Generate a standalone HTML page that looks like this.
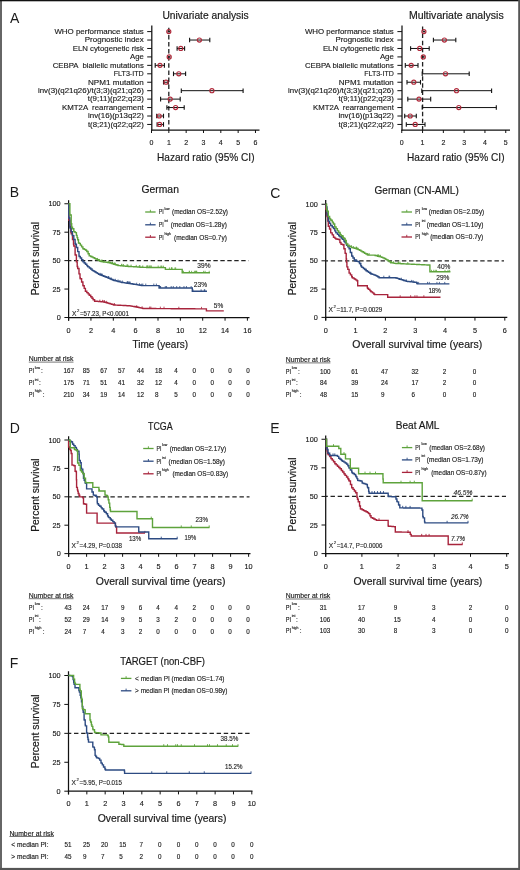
<!DOCTYPE html>
<html><head><meta charset="utf-8"><title>Figure</title>
<style>
html,body{margin:0;padding:0;background:#fff;}
svg{display:block;will-change:transform;}
text{font-family:"Liberation Sans", sans-serif;white-space:pre;}
.s{stroke:#1a1a1a;stroke-width:0.14px;}
.m{stroke:#1a1a1a;stroke-width:0.18px;}
</style></head>
<body>
<svg width="520" height="870" viewBox="0 0 520 870">
<rect x="0" y="0" width="520" height="870" fill="#ffffff"/>
<text x="9.90" y="22.50" font-size="14.0" fill="#1a1a1a" class="m" style="stroke:none">A</text>
<text x="162.40" y="19.40" font-size="10.3" textLength="86.30" lengthAdjust="spacingAndGlyphs" fill="#1a1a1a" class="m">Univariate analysis</text>
<text x="143.80" y="33.90" font-size="7.8" text-anchor="end" textLength="89.40" lengthAdjust="spacingAndGlyphs" fill="#1a1a1a" class="s">WHO performance status</text>
<text x="143.80" y="42.34" font-size="7.8" text-anchor="end" textLength="59.00" lengthAdjust="spacingAndGlyphs" fill="#1a1a1a" class="s">Prognostic index</text>
<text x="143.80" y="50.78" font-size="7.8" text-anchor="end" textLength="71.10" lengthAdjust="spacingAndGlyphs" fill="#1a1a1a" class="s">ELN cytogenetic risk</text>
<text x="143.80" y="59.22" font-size="7.8" text-anchor="end" textLength="13.80" lengthAdjust="spacingAndGlyphs" fill="#1a1a1a" class="s">Age</text>
<text x="143.80" y="67.66" font-size="7.8" text-anchor="end" textLength="91.10" lengthAdjust="spacingAndGlyphs" fill="#1a1a1a" class="s">CEBPA  biallelic mutations</text>
<text x="143.80" y="76.10" font-size="7.8" text-anchor="end" textLength="30.10" lengthAdjust="spacingAndGlyphs" fill="#1a1a1a" class="s">FLT3-ITD</text>
<text x="143.80" y="84.54" font-size="7.8" text-anchor="end" textLength="55.80" lengthAdjust="spacingAndGlyphs" fill="#1a1a1a" class="s">NPM1 mutation</text>
<text x="143.80" y="92.98" font-size="7.8" text-anchor="end" textLength="105.90" lengthAdjust="spacingAndGlyphs" fill="#1a1a1a" class="s">inv(3)(q21q26)/t(3;3)(q21;q26)</text>
<text x="143.80" y="101.42" font-size="7.8" text-anchor="end" textLength="56.00" lengthAdjust="spacingAndGlyphs" fill="#1a1a1a" class="s">t(9;11)(p22;q23)</text>
<text x="143.80" y="109.86" font-size="7.8" text-anchor="end" textLength="81.90" lengthAdjust="spacingAndGlyphs" fill="#1a1a1a" class="s">KMT2A  rearrangement</text>
<text x="143.80" y="118.30" font-size="7.8" text-anchor="end" textLength="55.80" lengthAdjust="spacingAndGlyphs" fill="#1a1a1a" class="s">inv(16)(p13q22)</text>
<text x="143.80" y="126.74" font-size="7.8" text-anchor="end" textLength="55.90" lengthAdjust="spacingAndGlyphs" fill="#1a1a1a" class="s">t(8;21)(q22;q22)</text>
<line x1="151.80" y1="25.50" x2="151.80" y2="130.60" stroke="#111" stroke-width="1.25"/>
<line x1="147.20" y1="31.60" x2="151.80" y2="31.60" stroke="#111" stroke-width="1.0"/>
<line x1="147.20" y1="40.04" x2="151.80" y2="40.04" stroke="#111" stroke-width="1.0"/>
<line x1="147.20" y1="48.48" x2="151.80" y2="48.48" stroke="#111" stroke-width="1.0"/>
<line x1="147.20" y1="56.92" x2="151.80" y2="56.92" stroke="#111" stroke-width="1.0"/>
<line x1="147.20" y1="65.36" x2="151.80" y2="65.36" stroke="#111" stroke-width="1.0"/>
<line x1="147.20" y1="73.80" x2="151.80" y2="73.80" stroke="#111" stroke-width="1.0"/>
<line x1="147.20" y1="82.24" x2="151.80" y2="82.24" stroke="#111" stroke-width="1.0"/>
<line x1="147.20" y1="90.68" x2="151.80" y2="90.68" stroke="#111" stroke-width="1.0"/>
<line x1="147.20" y1="99.12" x2="151.80" y2="99.12" stroke="#111" stroke-width="1.0"/>
<line x1="147.20" y1="107.56" x2="151.80" y2="107.56" stroke="#111" stroke-width="1.0"/>
<line x1="147.20" y1="116.00" x2="151.80" y2="116.00" stroke="#111" stroke-width="1.0"/>
<line x1="147.20" y1="124.44" x2="151.80" y2="124.44" stroke="#111" stroke-width="1.0"/>
<line x1="151.20" y1="130.00" x2="259.50" y2="130.00" stroke="#111" stroke-width="1.25"/>
<line x1="151.50" y1="130.00" x2="151.50" y2="133.00" stroke="#111" stroke-width="1.0"/>
<text x="151.50" y="144.90" font-size="7.0" text-anchor="middle" fill="#1a1a1a" class="s">0</text>
<line x1="168.83" y1="130.00" x2="168.83" y2="133.00" stroke="#111" stroke-width="1.0"/>
<text x="168.83" y="144.90" font-size="7.0" text-anchor="middle" fill="#1a1a1a" class="s">1</text>
<line x1="186.16" y1="130.00" x2="186.16" y2="133.00" stroke="#111" stroke-width="1.0"/>
<text x="186.16" y="144.90" font-size="7.0" text-anchor="middle" fill="#1a1a1a" class="s">2</text>
<line x1="203.49" y1="130.00" x2="203.49" y2="133.00" stroke="#111" stroke-width="1.0"/>
<text x="203.49" y="144.90" font-size="7.0" text-anchor="middle" fill="#1a1a1a" class="s">3</text>
<line x1="220.82" y1="130.00" x2="220.82" y2="133.00" stroke="#111" stroke-width="1.0"/>
<text x="220.82" y="144.90" font-size="7.0" text-anchor="middle" fill="#1a1a1a" class="s">4</text>
<line x1="238.15" y1="130.00" x2="238.15" y2="133.00" stroke="#111" stroke-width="1.0"/>
<text x="238.15" y="144.90" font-size="7.0" text-anchor="middle" fill="#1a1a1a" class="s">5</text>
<line x1="255.48" y1="130.00" x2="255.48" y2="133.00" stroke="#111" stroke-width="1.0"/>
<text x="255.48" y="144.90" font-size="7.0" text-anchor="middle" fill="#1a1a1a" class="s">6</text>
<line x1="168.80" y1="25.50" x2="168.80" y2="130.00" stroke="#222" stroke-width="1.3" stroke-dasharray="4.5,2.6" stroke-dashoffset="4.8"/>
<rect x="167.50" y="30.80" width="2.6" height="1.6" fill="#222"/>
<circle cx="168.80" cy="31.60" r="2.05" fill="none" stroke="#b02a3b" stroke-width="1.15"/>
<line x1="189.60" y1="40.04" x2="209.80" y2="40.04" stroke="#111" stroke-width="1.0"/>
<line x1="189.60" y1="37.74" x2="189.60" y2="42.34" stroke="#111" stroke-width="1.1"/>
<line x1="209.80" y1="37.74" x2="209.80" y2="42.34" stroke="#111" stroke-width="1.1"/>
<circle cx="199.40" cy="40.04" r="2.05" fill="none" stroke="#b02a3b" stroke-width="1.15"/>
<line x1="177.10" y1="48.48" x2="184.60" y2="48.48" stroke="#111" stroke-width="1.0"/>
<line x1="177.10" y1="46.18" x2="177.10" y2="50.78" stroke="#111" stroke-width="1.1"/>
<line x1="184.60" y1="46.18" x2="184.60" y2="50.78" stroke="#111" stroke-width="1.1"/>
<circle cx="180.80" cy="48.48" r="2.05" fill="none" stroke="#b02a3b" stroke-width="1.15"/>
<rect x="167.90" y="56.12" width="2.6" height="1.6" fill="#222"/>
<circle cx="169.20" cy="56.92" r="2.05" fill="none" stroke="#b02a3b" stroke-width="1.15"/>
<line x1="155.20" y1="65.36" x2="164.40" y2="65.36" stroke="#111" stroke-width="1.0"/>
<line x1="155.20" y1="63.06" x2="155.20" y2="67.66" stroke="#111" stroke-width="1.1"/>
<line x1="164.40" y1="63.06" x2="164.40" y2="67.66" stroke="#111" stroke-width="1.1"/>
<circle cx="160.00" cy="65.36" r="2.05" fill="none" stroke="#b02a3b" stroke-width="1.15"/>
<line x1="173.50" y1="73.80" x2="185.60" y2="73.80" stroke="#111" stroke-width="1.0"/>
<line x1="173.50" y1="71.50" x2="173.50" y2="76.10" stroke="#111" stroke-width="1.1"/>
<line x1="185.60" y1="71.50" x2="185.60" y2="76.10" stroke="#111" stroke-width="1.1"/>
<circle cx="178.80" cy="73.80" r="2.05" fill="none" stroke="#b02a3b" stroke-width="1.15"/>
<line x1="163.50" y1="82.24" x2="168.30" y2="82.24" stroke="#111" stroke-width="1.0"/>
<line x1="163.50" y1="79.94" x2="163.50" y2="84.54" stroke="#111" stroke-width="1.1"/>
<line x1="168.30" y1="79.94" x2="168.30" y2="84.54" stroke="#111" stroke-width="1.1"/>
<circle cx="166.00" cy="82.24" r="2.05" fill="none" stroke="#b02a3b" stroke-width="1.15"/>
<line x1="181.30" y1="90.68" x2="243.10" y2="90.68" stroke="#111" stroke-width="1.0"/>
<line x1="181.30" y1="88.38" x2="181.30" y2="92.98" stroke="#111" stroke-width="1.1"/>
<line x1="243.10" y1="88.38" x2="243.10" y2="92.98" stroke="#111" stroke-width="1.1"/>
<circle cx="211.90" cy="90.68" r="2.05" fill="none" stroke="#b02a3b" stroke-width="1.15"/>
<line x1="160.60" y1="99.12" x2="180.20" y2="99.12" stroke="#111" stroke-width="1.0"/>
<line x1="160.60" y1="96.82" x2="160.60" y2="101.42" stroke="#111" stroke-width="1.1"/>
<line x1="180.20" y1="96.82" x2="180.20" y2="101.42" stroke="#111" stroke-width="1.1"/>
<circle cx="170.20" cy="99.12" r="2.05" fill="none" stroke="#b02a3b" stroke-width="1.15"/>
<line x1="166.90" y1="107.56" x2="184.20" y2="107.56" stroke="#111" stroke-width="1.0"/>
<line x1="166.90" y1="105.26" x2="166.90" y2="109.86" stroke="#111" stroke-width="1.1"/>
<line x1="184.20" y1="105.26" x2="184.20" y2="109.86" stroke="#111" stroke-width="1.1"/>
<circle cx="175.60" cy="107.56" r="2.05" fill="none" stroke="#b02a3b" stroke-width="1.15"/>
<line x1="156.70" y1="116.00" x2="163.50" y2="116.00" stroke="#111" stroke-width="1.0"/>
<line x1="156.70" y1="113.70" x2="156.70" y2="118.30" stroke="#111" stroke-width="1.1"/>
<line x1="163.50" y1="113.70" x2="163.50" y2="118.30" stroke="#111" stroke-width="1.1"/>
<circle cx="159.20" cy="116.00" r="2.05" fill="none" stroke="#b02a3b" stroke-width="1.15"/>
<line x1="157.10" y1="124.44" x2="163.50" y2="124.44" stroke="#111" stroke-width="1.0"/>
<line x1="157.10" y1="122.14" x2="157.10" y2="126.74" stroke="#111" stroke-width="1.1"/>
<line x1="163.50" y1="122.14" x2="163.50" y2="126.74" stroke="#111" stroke-width="1.1"/>
<circle cx="159.60" cy="124.44" r="2.05" fill="none" stroke="#b02a3b" stroke-width="1.15"/>
<text x="157.00" y="160.60" font-size="10.4" textLength="97.50" lengthAdjust="spacingAndGlyphs" fill="#1a1a1a" class="m">Hazard ratio (95% CI)</text>
<text x="408.90" y="19.40" font-size="10.3" textLength="94.80" lengthAdjust="spacingAndGlyphs" fill="#1a1a1a" class="m">Multivariate analysis</text>
<text x="393.80" y="33.90" font-size="7.8" text-anchor="end" textLength="88.90" lengthAdjust="spacingAndGlyphs" fill="#1a1a1a" class="s">WHO performance status</text>
<text x="393.80" y="42.34" font-size="7.8" text-anchor="end" textLength="58.40" lengthAdjust="spacingAndGlyphs" fill="#1a1a1a" class="s">Prognostic index</text>
<text x="393.80" y="50.78" font-size="7.8" text-anchor="end" textLength="70.90" lengthAdjust="spacingAndGlyphs" fill="#1a1a1a" class="s">ELN cytogenetic risk</text>
<text x="393.80" y="59.22" font-size="7.8" text-anchor="end" textLength="13.90" lengthAdjust="spacingAndGlyphs" fill="#1a1a1a" class="s">Age</text>
<text x="393.80" y="67.66" font-size="7.8" text-anchor="end" textLength="88.90" lengthAdjust="spacingAndGlyphs" fill="#1a1a1a" class="s">CEBPA biallelic mutations</text>
<text x="393.80" y="76.10" font-size="7.8" text-anchor="end" textLength="29.60" lengthAdjust="spacingAndGlyphs" fill="#1a1a1a" class="s">FLT3-ITD</text>
<text x="393.80" y="84.54" font-size="7.8" text-anchor="end" textLength="55.00" lengthAdjust="spacingAndGlyphs" fill="#1a1a1a" class="s">NPM1 mutation</text>
<text x="393.80" y="92.98" font-size="7.8" text-anchor="end" textLength="105.70" lengthAdjust="spacingAndGlyphs" fill="#1a1a1a" class="s">inv(3)(q21q26)/t(3;3)(q21;q26)</text>
<text x="393.80" y="101.42" font-size="7.8" text-anchor="end" textLength="55.40" lengthAdjust="spacingAndGlyphs" fill="#1a1a1a" class="s">t(9;11)(p22;q23)</text>
<text x="393.80" y="109.86" font-size="7.8" text-anchor="end" textLength="80.80" lengthAdjust="spacingAndGlyphs" fill="#1a1a1a" class="s">KMT2A  rearrangement</text>
<text x="393.80" y="118.30" font-size="7.8" text-anchor="end" textLength="55.40" lengthAdjust="spacingAndGlyphs" fill="#1a1a1a" class="s">inv(16)(p13q22)</text>
<text x="393.80" y="126.74" font-size="7.8" text-anchor="end" textLength="55.40" lengthAdjust="spacingAndGlyphs" fill="#1a1a1a" class="s">t(8;21)(q22;q22)</text>
<line x1="402.00" y1="25.50" x2="402.00" y2="130.60" stroke="#111" stroke-width="1.25"/>
<line x1="397.40" y1="31.60" x2="402.00" y2="31.60" stroke="#111" stroke-width="1.0"/>
<line x1="397.40" y1="40.04" x2="402.00" y2="40.04" stroke="#111" stroke-width="1.0"/>
<line x1="397.40" y1="48.48" x2="402.00" y2="48.48" stroke="#111" stroke-width="1.0"/>
<line x1="397.40" y1="56.92" x2="402.00" y2="56.92" stroke="#111" stroke-width="1.0"/>
<line x1="397.40" y1="65.36" x2="402.00" y2="65.36" stroke="#111" stroke-width="1.0"/>
<line x1="397.40" y1="73.80" x2="402.00" y2="73.80" stroke="#111" stroke-width="1.0"/>
<line x1="397.40" y1="82.24" x2="402.00" y2="82.24" stroke="#111" stroke-width="1.0"/>
<line x1="397.40" y1="90.68" x2="402.00" y2="90.68" stroke="#111" stroke-width="1.0"/>
<line x1="397.40" y1="99.12" x2="402.00" y2="99.12" stroke="#111" stroke-width="1.0"/>
<line x1="397.40" y1="107.56" x2="402.00" y2="107.56" stroke="#111" stroke-width="1.0"/>
<line x1="397.40" y1="116.00" x2="402.00" y2="116.00" stroke="#111" stroke-width="1.0"/>
<line x1="397.40" y1="124.44" x2="402.00" y2="124.44" stroke="#111" stroke-width="1.0"/>
<line x1="401.40" y1="130.00" x2="510.00" y2="130.00" stroke="#111" stroke-width="1.25"/>
<line x1="401.75" y1="130.00" x2="401.75" y2="133.00" stroke="#111" stroke-width="1.0"/>
<text x="401.75" y="144.90" font-size="7.0" text-anchor="middle" fill="#1a1a1a" class="s">0</text>
<line x1="422.55" y1="130.00" x2="422.55" y2="133.00" stroke="#111" stroke-width="1.0"/>
<text x="422.55" y="144.90" font-size="7.0" text-anchor="middle" fill="#1a1a1a" class="s">1</text>
<line x1="443.35" y1="130.00" x2="443.35" y2="133.00" stroke="#111" stroke-width="1.0"/>
<text x="443.35" y="144.90" font-size="7.0" text-anchor="middle" fill="#1a1a1a" class="s">2</text>
<line x1="464.15" y1="130.00" x2="464.15" y2="133.00" stroke="#111" stroke-width="1.0"/>
<text x="464.15" y="144.90" font-size="7.0" text-anchor="middle" fill="#1a1a1a" class="s">3</text>
<line x1="484.95" y1="130.00" x2="484.95" y2="133.00" stroke="#111" stroke-width="1.0"/>
<text x="484.95" y="144.90" font-size="7.0" text-anchor="middle" fill="#1a1a1a" class="s">4</text>
<line x1="505.75" y1="130.00" x2="505.75" y2="133.00" stroke="#111" stroke-width="1.0"/>
<text x="505.75" y="144.90" font-size="7.0" text-anchor="middle" fill="#1a1a1a" class="s">5</text>
<line x1="422.60" y1="25.50" x2="422.60" y2="130.00" stroke="#222" stroke-width="1.3" stroke-dasharray="4.5,2.6" stroke-dashoffset="6.1"/>
<rect x="422.60" y="30.80" width="2.6" height="1.6" fill="#222"/>
<circle cx="423.90" cy="31.60" r="2.05" fill="none" stroke="#b02a3b" stroke-width="1.15"/>
<line x1="433.40" y1="40.04" x2="455.80" y2="40.04" stroke="#111" stroke-width="1.0"/>
<line x1="433.40" y1="37.74" x2="433.40" y2="42.34" stroke="#111" stroke-width="1.1"/>
<line x1="455.80" y1="37.74" x2="455.80" y2="42.34" stroke="#111" stroke-width="1.1"/>
<circle cx="444.40" cy="40.04" r="2.05" fill="none" stroke="#b02a3b" stroke-width="1.15"/>
<line x1="410.60" y1="48.48" x2="429.20" y2="48.48" stroke="#111" stroke-width="1.0"/>
<line x1="410.60" y1="46.18" x2="410.60" y2="50.78" stroke="#111" stroke-width="1.1"/>
<line x1="429.20" y1="46.18" x2="429.20" y2="50.78" stroke="#111" stroke-width="1.1"/>
<circle cx="419.70" cy="48.48" r="2.05" fill="none" stroke="#b02a3b" stroke-width="1.15"/>
<rect x="422.00" y="56.12" width="2.6" height="1.6" fill="#222"/>
<circle cx="423.30" cy="56.92" r="2.05" fill="none" stroke="#b02a3b" stroke-width="1.15"/>
<line x1="405.30" y1="65.36" x2="418.00" y2="65.36" stroke="#111" stroke-width="1.0"/>
<line x1="405.30" y1="63.06" x2="405.30" y2="67.66" stroke="#111" stroke-width="1.1"/>
<line x1="418.00" y1="63.06" x2="418.00" y2="67.66" stroke="#111" stroke-width="1.1"/>
<circle cx="411.20" cy="65.36" r="2.05" fill="none" stroke="#b02a3b" stroke-width="1.15"/>
<line x1="422.20" y1="73.80" x2="469.20" y2="73.80" stroke="#111" stroke-width="1.0"/>
<line x1="422.20" y1="71.50" x2="422.20" y2="76.10" stroke="#111" stroke-width="1.1"/>
<line x1="469.20" y1="71.50" x2="469.20" y2="76.10" stroke="#111" stroke-width="1.1"/>
<circle cx="445.50" cy="73.80" r="2.05" fill="none" stroke="#b02a3b" stroke-width="1.15"/>
<line x1="407.00" y1="82.24" x2="420.50" y2="82.24" stroke="#111" stroke-width="1.0"/>
<line x1="407.00" y1="79.94" x2="407.00" y2="84.54" stroke="#111" stroke-width="1.1"/>
<line x1="420.50" y1="79.94" x2="420.50" y2="84.54" stroke="#111" stroke-width="1.1"/>
<circle cx="413.80" cy="82.24" r="2.05" fill="none" stroke="#b02a3b" stroke-width="1.15"/>
<line x1="421.80" y1="90.68" x2="491.60" y2="90.68" stroke="#111" stroke-width="1.0"/>
<line x1="421.80" y1="88.38" x2="421.80" y2="92.98" stroke="#111" stroke-width="1.1"/>
<line x1="491.60" y1="88.38" x2="491.60" y2="92.98" stroke="#111" stroke-width="1.1"/>
<circle cx="456.50" cy="90.68" r="2.05" fill="none" stroke="#b02a3b" stroke-width="1.15"/>
<line x1="407.80" y1="99.12" x2="430.70" y2="99.12" stroke="#111" stroke-width="1.0"/>
<line x1="407.80" y1="96.82" x2="407.80" y2="101.42" stroke="#111" stroke-width="1.1"/>
<line x1="430.70" y1="96.82" x2="430.70" y2="101.42" stroke="#111" stroke-width="1.1"/>
<circle cx="419.00" cy="99.12" r="2.05" fill="none" stroke="#b02a3b" stroke-width="1.15"/>
<line x1="422.20" y1="107.56" x2="496.30" y2="107.56" stroke="#111" stroke-width="1.0"/>
<line x1="422.20" y1="105.26" x2="422.20" y2="109.86" stroke="#111" stroke-width="1.1"/>
<line x1="496.30" y1="105.26" x2="496.30" y2="109.86" stroke="#111" stroke-width="1.1"/>
<circle cx="458.80" cy="107.56" r="2.05" fill="none" stroke="#b02a3b" stroke-width="1.15"/>
<line x1="404.70" y1="116.00" x2="416.30" y2="116.00" stroke="#111" stroke-width="1.0"/>
<line x1="404.70" y1="113.70" x2="404.70" y2="118.30" stroke="#111" stroke-width="1.1"/>
<line x1="416.30" y1="113.70" x2="416.30" y2="118.30" stroke="#111" stroke-width="1.1"/>
<circle cx="410.20" cy="116.00" r="2.05" fill="none" stroke="#b02a3b" stroke-width="1.15"/>
<line x1="406.30" y1="124.44" x2="425.00" y2="124.44" stroke="#111" stroke-width="1.0"/>
<line x1="406.30" y1="122.14" x2="406.30" y2="126.74" stroke="#111" stroke-width="1.1"/>
<line x1="425.00" y1="122.14" x2="425.00" y2="126.74" stroke="#111" stroke-width="1.1"/>
<circle cx="415.20" cy="124.44" r="2.05" fill="none" stroke="#b02a3b" stroke-width="1.15"/>
<text x="407.00" y="160.60" font-size="10.4" textLength="97.50" lengthAdjust="spacingAndGlyphs" fill="#1a1a1a" class="m">Hazard ratio (95% CI)</text>
<line x1="68.60" y1="200.20" x2="68.60" y2="320.70" stroke="#111" stroke-width="1.25"/>
<line x1="64.40" y1="317.50" x2="68.60" y2="317.50" stroke="#111" stroke-width="1.0"/>
<text x="60.70" y="320.10" font-size="7.3" text-anchor="end" fill="#1a1a1a" class="s">0</text>
<line x1="64.40" y1="289.06" x2="68.60" y2="289.06" stroke="#111" stroke-width="1.0"/>
<text x="60.70" y="291.66" font-size="7.3" text-anchor="end" fill="#1a1a1a" class="s">25</text>
<line x1="64.40" y1="260.62" x2="68.60" y2="260.62" stroke="#111" stroke-width="1.0"/>
<text x="60.70" y="263.23" font-size="7.3" text-anchor="end" fill="#1a1a1a" class="s">50</text>
<line x1="64.40" y1="232.19" x2="68.60" y2="232.19" stroke="#111" stroke-width="1.0"/>
<text x="60.70" y="234.79" font-size="7.3" text-anchor="end" fill="#1a1a1a" class="s">75</text>
<line x1="64.40" y1="203.75" x2="68.60" y2="203.75" stroke="#111" stroke-width="1.0"/>
<text x="60.70" y="206.35" font-size="7.3" text-anchor="end" fill="#1a1a1a" class="s">100</text>
<line x1="68.00" y1="317.50" x2="249.50" y2="317.50" stroke="#111" stroke-width="1.25"/>
<line x1="68.60" y1="317.50" x2="68.60" y2="320.70" stroke="#111" stroke-width="1.0"/>
<text x="68.60" y="332.60" font-size="7.3" text-anchor="middle" fill="#1a1a1a" class="s">0</text>
<line x1="90.95" y1="317.50" x2="90.95" y2="320.70" stroke="#111" stroke-width="1.0"/>
<text x="90.95" y="332.60" font-size="7.3" text-anchor="middle" fill="#1a1a1a" class="s">2</text>
<line x1="113.30" y1="317.50" x2="113.30" y2="320.70" stroke="#111" stroke-width="1.0"/>
<text x="113.30" y="332.60" font-size="7.3" text-anchor="middle" fill="#1a1a1a" class="s">4</text>
<line x1="135.65" y1="317.50" x2="135.65" y2="320.70" stroke="#111" stroke-width="1.0"/>
<text x="135.65" y="332.60" font-size="7.3" text-anchor="middle" fill="#1a1a1a" class="s">6</text>
<line x1="158.00" y1="317.50" x2="158.00" y2="320.70" stroke="#111" stroke-width="1.0"/>
<text x="158.00" y="332.60" font-size="7.3" text-anchor="middle" fill="#1a1a1a" class="s">8</text>
<line x1="180.35" y1="317.50" x2="180.35" y2="320.70" stroke="#111" stroke-width="1.0"/>
<text x="180.35" y="332.60" font-size="7.3" text-anchor="middle" fill="#1a1a1a" class="s">10</text>
<line x1="202.70" y1="317.50" x2="202.70" y2="320.70" stroke="#111" stroke-width="1.0"/>
<text x="202.70" y="332.60" font-size="7.3" text-anchor="middle" fill="#1a1a1a" class="s">12</text>
<line x1="225.05" y1="317.50" x2="225.05" y2="320.70" stroke="#111" stroke-width="1.0"/>
<text x="225.05" y="332.60" font-size="7.3" text-anchor="middle" fill="#1a1a1a" class="s">14</text>
<line x1="247.40" y1="317.50" x2="247.40" y2="320.70" stroke="#111" stroke-width="1.0"/>
<text x="247.40" y="332.60" font-size="7.3" text-anchor="middle" fill="#1a1a1a" class="s">16</text>
<line x1="68.60" y1="260.62" x2="248.50" y2="260.62" stroke="#222" stroke-width="1.35" stroke-dasharray="4.4,2.57" stroke-dashoffset="1.6"/>
<text x="0" y="0" font-size="10.4" text-anchor="middle" textLength="73.40" lengthAdjust="spacingAndGlyphs" fill="#1a1a1a" class="m" transform="translate(39.10,258.60) rotate(-90)">Percent survival</text>
<text x="132.50" y="348.20" font-size="10.4" textLength="55.50" lengthAdjust="spacingAndGlyphs" fill="#1a1a1a" class="m">Time (years)</text>
<text x="141.50" y="193.40" font-size="10.6" textLength="37.40" lengthAdjust="spacingAndGlyphs" fill="#1a1a1a" class="m">German</text>
<text x="9.80" y="197.00" font-size="14.0" fill="#1a1a1a" class="m" style="stroke:none">B</text>
<path d="M68.60,203.75 H68.80 V220.40 H69.90 V226.78 H70.80 V232.00 H71.20 V233.78 H72.50 V239.56 H73.50 V244.00 H73.80 V245.94 H75.10 V254.35 H75.20 V255.00 H76.40 V261.90 H77.20 V266.50 H77.70 V268.55 H79.00 V273.89 H80.00 V278.00 H80.30 V278.75 H81.60 V282.03 H82.90 V285.30 H83.10 V285.80 H84.20 V288.38 H85.40 V291.20 H85.50 V291.30 H86.80 V292.60 H88.10 V293.90 H89.20 V295.00 H89.40 V295.24 H90.70 V296.77 H92.00 V298.30 H93.10 V299.60 H93.30 V299.81 H94.60 V301.20 H95.90 V301.31 H97.20 V301.41 H98.50 V301.52 H99.80 V301.63 H101.10 V301.74 H102.40 V301.84 H103.10 V301.90 H103.70 V302.06 H105.00 V302.40 H106.30 V302.74 H107.60 V303.08 H108.90 V303.42 H109.20 V303.50 H110.20 V303.83 H111.50 V304.25 H112.80 V304.67 H113.80 V305.00 H114.10 V305.02 H115.40 V305.08 H116.70 V305.15 H118.00 V305.22 H119.30 V305.29 H120.60 V305.35 H121.90 V305.42 H123.20 V305.49 H124.50 V305.56 H125.80 V305.62 H127.10 V305.69 H128.40 V305.76 H129.20 V305.80 H129.70 V305.89 H131.00 V306.11 H132.30 V306.33 H133.60 V306.56 H134.90 V306.78 H135.00 V306.80 H136.20 V307.05 H137.50 V307.32 H138.80 V307.60 H140.10 V307.87 H141.40 V308.14 H142.70 V308.42 H143.10 V308.50 H144.00 H145.30 V308.51 H146.60 H147.90 V308.53 H149.20 H150.50 V308.55 H151.80 H153.10 V308.56 H154.40 H155.70 V308.58 H157.00 H158.30 V308.60 H159.60 H160.90 V308.61 H162.20 H163.50 V308.63 H164.80 H166.10 V308.65 H167.40 H168.70 V308.66 H170.00 H171.30 V308.68 H172.60 H173.90 V308.70 H175.20 H176.50 V308.71 H177.80 H179.10 V308.73 H180.40 H181.70 V308.75 H183.00 H184.30 V308.76 H185.60 H186.90 V308.78 H188.20 H189.50 V308.80 H190.80 H192.10 V308.81 H193.40 H194.70 V308.83 H196.00 H197.30 V308.85 H198.60 H199.90 V308.86 H201.20 H202.50 V308.88 H203.80 H205.10 V308.90 H205.40 H206.40 V310.72 H206.50 V310.90 H207.70 H209.00 H210.30 H211.60 H212.90 H214.20 H215.50 H216.80 H218.10 H219.40 H220.70 H222.00 H223.30 H223.80" fill="none" stroke="#a8243c" stroke-width="1.4" stroke-linejoin="miter" stroke-linecap="butt"/>
<line x1="136.71" y1="307.16" x2="136.71" y2="305.16" stroke="#a8243c" stroke-width="0.8"/>
<line x1="114.43" y1="305.03" x2="114.43" y2="303.03" stroke="#a8243c" stroke-width="0.8"/>
<line x1="178.84" y1="308.73" x2="178.84" y2="306.73" stroke="#a8243c" stroke-width="0.8"/>
<line x1="104.33" y1="302.22" x2="104.33" y2="300.22" stroke="#a8243c" stroke-width="0.8"/>
<line x1="164.02" y1="308.63" x2="164.02" y2="306.63" stroke="#a8243c" stroke-width="0.8"/>
<line x1="142.10" y1="308.29" x2="142.10" y2="306.29" stroke="#a8243c" stroke-width="0.8"/>
<line x1="102.47" y1="301.85" x2="102.47" y2="299.85" stroke="#a8243c" stroke-width="0.8"/>
<line x1="160.36" y1="308.61" x2="160.36" y2="306.61" stroke="#a8243c" stroke-width="0.8"/>
<line x1="99.83" y1="301.63" x2="99.83" y2="299.63" stroke="#a8243c" stroke-width="0.8"/>
<line x1="150.85" y1="308.55" x2="150.85" y2="306.55" stroke="#a8243c" stroke-width="0.8"/>
<line x1="104.00" y1="302.14" x2="104.00" y2="300.14" stroke="#a8243c" stroke-width="0.8"/>
<line x1="106.68" y1="302.84" x2="106.68" y2="300.84" stroke="#a8243c" stroke-width="0.8"/>
<line x1="149.68" y1="308.54" x2="149.68" y2="306.54" stroke="#a8243c" stroke-width="0.8"/>
<line x1="201.50" y1="308.87" x2="201.50" y2="306.87" stroke="#a8243c" stroke-width="0.8"/>
<path d="M68.60,203.75 H68.80 V218.00 H69.90 V227.17 H70.00 V228.00 H71.20 V231.65 H72.30 V235.00 H72.50 V235.59 H73.80 V239.45 H75.10 V243.31 H75.40 V244.20 H76.40 V247.44 H77.70 V251.64 H79.00 V255.85 H79.20 V256.50 H80.30 V258.02 H81.60 V259.82 H82.90 V261.62 H83.10 V261.90 H84.20 V263.00 H85.50 V264.30 H86.80 V265.60 H87.70 V266.50 H88.10 V266.84 H89.40 V267.94 H90.70 V269.04 H92.00 V270.15 H92.30 V270.40 H93.30 V271.01 H94.60 V271.81 H95.90 V272.61 H97.20 V273.40 H98.50 V274.20 H99.80 V274.72 H101.10 V275.25 H102.40 V275.77 H103.70 V276.29 H105.00 V276.82 H106.20 V277.30 H106.30 V277.34 H107.60 V277.87 H108.90 V278.40 H110.20 V278.93 H111.50 V279.46 H112.80 V279.99 H113.80 V280.40 H114.10 V280.48 H115.40 V280.82 H116.70 V281.15 H118.00 V281.49 H119.30 V281.83 H120.60 V282.17 H121.50 V282.40 H121.90 V282.46 H123.20 V282.64 H124.50 V282.83 H125.80 V283.01 H127.10 V283.20 H128.40 V283.39 H129.20 V283.50 H129.70 V283.58 H131.00 V283.78 H132.30 V283.98 H133.60 V284.18 H134.90 V284.38 H135.00 V284.40 H136.20 V284.61 H137.50 V284.83 H138.80 V285.06 H140.10 V285.29 H141.40 V285.51 H141.90 V285.60 H142.70 H144.00 H145.30 H146.60 H147.90 H149.20 H150.50 H151.80 H153.10 H154.40 H155.70 H157.00 H158.30 H159.10 V288.00 H159.60 H160.90 H162.20 H163.50 H164.80 H166.10 H167.40 H168.70 H170.00 H171.30 H172.60 H173.90 H175.20 H176.50 H177.80 H179.10 H180.40 H181.70 H183.00 H184.30 H185.60 H186.90 H188.20 H189.50 H190.80 H192.10 H192.30 V291.30 H193.40 H194.70 H196.00 H197.30 H198.60 H199.90 H201.20 H202.50 H203.80 H205.10 H206.40 H207.00" fill="none" stroke="#2d4b82" stroke-width="1.4" stroke-linejoin="miter" stroke-linecap="butt"/>
<line x1="108.87" y1="278.39" x2="108.87" y2="276.39" stroke="#2d4b82" stroke-width="0.8"/>
<line x1="120.00" y1="282.01" x2="120.00" y2="280.01" stroke="#2d4b82" stroke-width="0.8"/>
<line x1="165.27" y1="288.00" x2="165.27" y2="286.00" stroke="#2d4b82" stroke-width="0.8"/>
<line x1="201.14" y1="291.30" x2="201.14" y2="289.30" stroke="#2d4b82" stroke-width="0.8"/>
<line x1="159.64" y1="288.00" x2="159.64" y2="286.00" stroke="#2d4b82" stroke-width="0.8"/>
<line x1="139.43" y1="285.17" x2="139.43" y2="283.17" stroke="#2d4b82" stroke-width="0.8"/>
<line x1="204.34" y1="291.30" x2="204.34" y2="289.30" stroke="#2d4b82" stroke-width="0.8"/>
<line x1="100.22" y1="274.89" x2="100.22" y2="272.89" stroke="#2d4b82" stroke-width="0.8"/>
<line x1="191.15" y1="288.00" x2="191.15" y2="286.00" stroke="#2d4b82" stroke-width="0.8"/>
<line x1="127.44" y1="283.25" x2="127.44" y2="281.25" stroke="#2d4b82" stroke-width="0.8"/>
<line x1="111.16" y1="279.32" x2="111.16" y2="277.32" stroke="#2d4b82" stroke-width="0.8"/>
<line x1="108.19" y1="278.11" x2="108.19" y2="276.11" stroke="#2d4b82" stroke-width="0.8"/>
<line x1="129.55" y1="283.55" x2="129.55" y2="281.55" stroke="#2d4b82" stroke-width="0.8"/>
<line x1="186.41" y1="288.00" x2="186.41" y2="286.00" stroke="#2d4b82" stroke-width="0.8"/>
<line x1="115.24" y1="280.77" x2="115.24" y2="278.77" stroke="#2d4b82" stroke-width="0.8"/>
<line x1="160.14" y1="288.00" x2="160.14" y2="286.00" stroke="#2d4b82" stroke-width="0.8"/>
<line x1="166.56" y1="288.00" x2="166.56" y2="286.00" stroke="#2d4b82" stroke-width="0.8"/>
<line x1="136.71" y1="284.70" x2="136.71" y2="282.70" stroke="#2d4b82" stroke-width="0.8"/>
<line x1="156.35" y1="285.60" x2="156.35" y2="283.60" stroke="#2d4b82" stroke-width="0.8"/>
<line x1="102.03" y1="275.62" x2="102.03" y2="273.62" stroke="#2d4b82" stroke-width="0.8"/>
<line x1="101.68" y1="275.48" x2="101.68" y2="273.48" stroke="#2d4b82" stroke-width="0.8"/>
<line x1="118.07" y1="281.51" x2="118.07" y2="279.51" stroke="#2d4b82" stroke-width="0.8"/>
<line x1="171.20" y1="288.00" x2="171.20" y2="286.00" stroke="#2d4b82" stroke-width="0.8"/>
<line x1="142.89" y1="285.60" x2="142.89" y2="283.60" stroke="#2d4b82" stroke-width="0.8"/>
<line x1="130.18" y1="283.65" x2="130.18" y2="281.65" stroke="#2d4b82" stroke-width="0.8"/>
<line x1="160.58" y1="288.00" x2="160.58" y2="286.00" stroke="#2d4b82" stroke-width="0.8"/>
<line x1="145.76" y1="285.60" x2="145.76" y2="283.60" stroke="#2d4b82" stroke-width="0.8"/>
<line x1="128.57" y1="283.41" x2="128.57" y2="281.41" stroke="#2d4b82" stroke-width="0.8"/>
<line x1="183.97" y1="288.00" x2="183.97" y2="286.00" stroke="#2d4b82" stroke-width="0.8"/>
<line x1="173.29" y1="288.00" x2="173.29" y2="286.00" stroke="#2d4b82" stroke-width="0.8"/>
<line x1="122.34" y1="282.52" x2="122.34" y2="280.52" stroke="#2d4b82" stroke-width="0.8"/>
<line x1="159.34" y1="288.00" x2="159.34" y2="286.00" stroke="#2d4b82" stroke-width="0.8"/>
<line x1="153.82" y1="285.60" x2="153.82" y2="283.60" stroke="#2d4b82" stroke-width="0.8"/>
<line x1="193.02" y1="291.30" x2="193.02" y2="289.30" stroke="#2d4b82" stroke-width="0.8"/>
<line x1="176.70" y1="288.00" x2="176.70" y2="286.00" stroke="#2d4b82" stroke-width="0.8"/>
<line x1="127.25" y1="283.22" x2="127.25" y2="281.22" stroke="#2d4b82" stroke-width="0.8"/>
<line x1="204.78" y1="291.30" x2="204.78" y2="289.30" stroke="#2d4b82" stroke-width="0.8"/>
<line x1="108.22" y1="278.13" x2="108.22" y2="276.13" stroke="#2d4b82" stroke-width="0.8"/>
<line x1="141.83" y1="285.59" x2="141.83" y2="283.59" stroke="#2d4b82" stroke-width="0.8"/>
<line x1="179.80" y1="288.00" x2="179.80" y2="286.00" stroke="#2d4b82" stroke-width="0.8"/>
<path d="M68.60,203.75 H69.90 V214.20 H70.00 V215.00 H71.20 V223.61 H71.70 V227.20 H72.50 V228.80 H73.80 V231.40 H74.00 V231.80 H75.10 V232.39 H75.50 V232.60 H76.40 V235.41 H77.10 V237.60 H77.70 V239.79 H78.50 V242.70 H79.00 V243.38 H80.30 V245.14 H81.60 V246.90 H82.90 V248.66 H83.00 V248.80 H84.20 V249.40 H85.50 V250.05 H86.20 V250.40 H86.80 V251.48 H88.10 V253.82 H89.20 V255.80 H89.40 V255.90 H90.70 V256.53 H92.00 V257.15 H93.30 V257.78 H94.60 V258.41 H95.40 V258.80 H95.90 V259.06 H97.20 V259.74 H98.50 V260.42 H99.80 V261.10 H100.00 V261.20 H101.10 V261.45 H102.40 V261.74 H103.10 V261.90 H103.70 V261.98 H105.00 V262.15 H106.30 V262.32 H107.60 V262.49 H108.90 V262.66 H109.20 V262.70 H110.20 V263.03 H111.50 V263.45 H112.80 V263.87 H113.80 V264.20 H114.10 V264.29 H115.40 V264.68 H116.70 V265.06 H118.00 V265.45 H118.50 V265.60 H119.30 V265.67 H120.60 V265.78 H121.90 V265.89 H123.20 V266.00 H124.50 V266.10 H125.80 V266.21 H127.10 V266.32 H128.40 V266.43 H129.20 V266.50 H129.70 V266.53 H131.00 V266.59 H132.30 V266.66 H133.60 V266.73 H134.90 V266.79 H135.00 H136.20 V266.89 H137.50 V266.99 H138.80 V267.08 H140.10 V267.18 H141.40 V267.27 H142.70 V267.37 H143.10 V267.40 H144.00 H145.30 V267.42 H146.60 V267.43 H147.90 V267.44 H149.20 V267.45 H150.50 V267.47 H151.80 V267.48 H153.10 V267.49 H154.40 V267.50 H155.70 V267.51 H157.00 V267.52 H158.30 V267.54 H159.60 V267.55 H160.90 V267.56 H162.20 V267.57 H163.50 V267.58 H164.80 V267.59 H165.40 V269.40 H166.10 H167.40 H168.70 H170.00 H171.30 H172.60 H173.90 H175.20 H176.50 H177.80 H179.10 H180.40 H181.70 H182.20 V272.80 H183.00 H184.30 H185.60 H186.90 H188.20 H189.50 H190.80 H192.10 H193.40 H194.70 H196.00 H197.30 H198.60 H199.90 H201.20 H202.50 H203.80 H205.10 H206.40 H207.70 H209.00 H210.00" fill="none" stroke="#5ea33c" stroke-width="1.4" stroke-linejoin="miter" stroke-linecap="butt"/>
<line x1="112.48" y1="263.77" x2="112.48" y2="261.77" stroke="#5ea33c" stroke-width="0.8"/>
<line x1="151.23" y1="267.47" x2="151.23" y2="265.47" stroke="#5ea33c" stroke-width="0.8"/>
<line x1="99.51" y1="260.94" x2="99.51" y2="258.94" stroke="#5ea33c" stroke-width="0.8"/>
<line x1="171.84" y1="269.40" x2="171.84" y2="267.40" stroke="#5ea33c" stroke-width="0.8"/>
<line x1="182.93" y1="272.80" x2="182.93" y2="270.80" stroke="#5ea33c" stroke-width="0.8"/>
<line x1="160.90" y1="267.56" x2="160.90" y2="265.56" stroke="#5ea33c" stroke-width="0.8"/>
<line x1="195.68" y1="272.80" x2="195.68" y2="270.80" stroke="#5ea33c" stroke-width="0.8"/>
<line x1="131.08" y1="266.60" x2="131.08" y2="264.60" stroke="#5ea33c" stroke-width="0.8"/>
<line x1="174.96" y1="269.40" x2="174.96" y2="267.40" stroke="#5ea33c" stroke-width="0.8"/>
<line x1="163.35" y1="267.58" x2="163.35" y2="265.58" stroke="#5ea33c" stroke-width="0.8"/>
<line x1="161.69" y1="267.57" x2="161.69" y2="265.57" stroke="#5ea33c" stroke-width="0.8"/>
<line x1="147.46" y1="267.44" x2="147.46" y2="265.44" stroke="#5ea33c" stroke-width="0.8"/>
<line x1="191.60" y1="272.80" x2="191.60" y2="270.80" stroke="#5ea33c" stroke-width="0.8"/>
<line x1="203.64" y1="272.80" x2="203.64" y2="270.80" stroke="#5ea33c" stroke-width="0.8"/>
<line x1="149.52" y1="267.46" x2="149.52" y2="265.46" stroke="#5ea33c" stroke-width="0.8"/>
<line x1="171.38" y1="269.40" x2="171.38" y2="267.40" stroke="#5ea33c" stroke-width="0.8"/>
<line x1="101.98" y1="261.65" x2="101.98" y2="259.65" stroke="#5ea33c" stroke-width="0.8"/>
<line x1="175.67" y1="269.40" x2="175.67" y2="267.40" stroke="#5ea33c" stroke-width="0.8"/>
<line x1="169.42" y1="269.40" x2="169.42" y2="267.40" stroke="#5ea33c" stroke-width="0.8"/>
<line x1="209.21" y1="272.80" x2="209.21" y2="270.80" stroke="#5ea33c" stroke-width="0.8"/>
<line x1="189.52" y1="272.80" x2="189.52" y2="270.80" stroke="#5ea33c" stroke-width="0.8"/>
<line x1="127.73" y1="266.38" x2="127.73" y2="264.38" stroke="#5ea33c" stroke-width="0.8"/>
<line x1="139.37" y1="267.12" x2="139.37" y2="265.12" stroke="#5ea33c" stroke-width="0.8"/>
<line x1="171.90" y1="269.40" x2="171.90" y2="267.40" stroke="#5ea33c" stroke-width="0.8"/>
<line x1="97.59" y1="259.95" x2="97.59" y2="257.95" stroke="#5ea33c" stroke-width="0.8"/>
<line x1="148.09" y1="267.44" x2="148.09" y2="265.44" stroke="#5ea33c" stroke-width="0.8"/>
<line x1="114.33" y1="264.36" x2="114.33" y2="262.36" stroke="#5ea33c" stroke-width="0.8"/>
<line x1="108.47" y1="262.60" x2="108.47" y2="260.60" stroke="#5ea33c" stroke-width="0.8"/>
<line x1="101.78" y1="261.60" x2="101.78" y2="259.60" stroke="#5ea33c" stroke-width="0.8"/>
<line x1="183.35" y1="272.80" x2="183.35" y2="270.80" stroke="#5ea33c" stroke-width="0.8"/>
<line x1="109.87" y1="262.92" x2="109.87" y2="260.92" stroke="#5ea33c" stroke-width="0.8"/>
<line x1="123.48" y1="266.02" x2="123.48" y2="264.02" stroke="#5ea33c" stroke-width="0.8"/>
<line x1="139.96" y1="267.17" x2="139.96" y2="265.17" stroke="#5ea33c" stroke-width="0.8"/>
<line x1="195.21" y1="272.80" x2="195.21" y2="270.80" stroke="#5ea33c" stroke-width="0.8"/>
<line x1="104.27" y1="262.05" x2="104.27" y2="260.05" stroke="#5ea33c" stroke-width="0.8"/>
<line x1="146.66" y1="267.43" x2="146.66" y2="265.43" stroke="#5ea33c" stroke-width="0.8"/>
<line x1="158.19" y1="267.54" x2="158.19" y2="265.54" stroke="#5ea33c" stroke-width="0.8"/>
<line x1="196.59" y1="272.80" x2="196.59" y2="270.80" stroke="#5ea33c" stroke-width="0.8"/>
<line x1="189.22" y1="272.80" x2="189.22" y2="270.80" stroke="#5ea33c" stroke-width="0.8"/>
<line x1="194.36" y1="272.80" x2="194.36" y2="270.80" stroke="#5ea33c" stroke-width="0.8"/>
<line x1="127.02" y1="266.32" x2="127.02" y2="264.32" stroke="#5ea33c" stroke-width="0.8"/>
<line x1="142.76" y1="267.37" x2="142.76" y2="265.37" stroke="#5ea33c" stroke-width="0.8"/>
<line x1="136.26" y1="266.89" x2="136.26" y2="264.89" stroke="#5ea33c" stroke-width="0.8"/>
<line x1="196.68" y1="272.80" x2="196.68" y2="270.80" stroke="#5ea33c" stroke-width="0.8"/>
<line x1="205.14" y1="272.80" x2="205.14" y2="270.80" stroke="#5ea33c" stroke-width="0.8"/>
<line x1="112.36" y1="263.73" x2="112.36" y2="261.73" stroke="#5ea33c" stroke-width="0.8"/>
<line x1="115.27" y1="264.64" x2="115.27" y2="262.64" stroke="#5ea33c" stroke-width="0.8"/>
<line x1="121.68" y1="265.87" x2="121.68" y2="263.87" stroke="#5ea33c" stroke-width="0.8"/>
<line x1="121.83" y1="265.88" x2="121.83" y2="263.88" stroke="#5ea33c" stroke-width="0.8"/>
<line x1="150.77" y1="267.47" x2="150.77" y2="265.47" stroke="#5ea33c" stroke-width="0.8"/>
<line x1="145.20" y1="212.00" x2="155.60" y2="212.00" stroke="#5ea33c" stroke-width="1.3"/>
<line x1="150.40" y1="212.00" x2="150.40" y2="209.80" stroke="#5ea33c" stroke-width="0.9"/>
<text x="158.80" y="214.40" font-size="6.6" textLength="5.00" lengthAdjust="spacingAndGlyphs" fill="#1a1a1a" class="s">PI</text>
<text x="164.40" y="209.50" font-size="3.5" fill="#1a1a1a" class="s">low</text>
<text x="172.00" y="214.40" font-size="6.6" textLength="56.00" lengthAdjust="spacingAndGlyphs" fill="#1a1a1a" class="s">(median OS=2.52y)</text>
<line x1="145.20" y1="224.80" x2="155.60" y2="224.80" stroke="#2d4b82" stroke-width="1.3"/>
<line x1="150.40" y1="224.80" x2="150.40" y2="222.60" stroke="#2d4b82" stroke-width="0.9"/>
<text x="158.80" y="227.20" font-size="6.6" textLength="5.00" lengthAdjust="spacingAndGlyphs" fill="#1a1a1a" class="s">PI</text>
<text x="164.40" y="222.30" font-size="3.5" fill="#1a1a1a" class="s">int</text>
<text x="170.80" y="227.20" font-size="6.6" textLength="56.00" lengthAdjust="spacingAndGlyphs" fill="#1a1a1a" class="s">(median OS=1.28y)</text>
<line x1="145.20" y1="237.20" x2="155.60" y2="237.20" stroke="#a8243c" stroke-width="1.3"/>
<line x1="150.40" y1="237.20" x2="150.40" y2="235.00" stroke="#a8243c" stroke-width="0.9"/>
<text x="158.80" y="239.60" font-size="6.6" textLength="5.00" lengthAdjust="spacingAndGlyphs" fill="#1a1a1a" class="s">PI</text>
<text x="164.40" y="234.70" font-size="3.5" fill="#1a1a1a" class="s">high</text>
<text x="174.00" y="239.60" font-size="6.6" textLength="52.80" lengthAdjust="spacingAndGlyphs" fill="#1a1a1a" class="s">(median OS=0.7y)</text>
<text x="197.30" y="268.40" font-size="6.8" textLength="13.20" lengthAdjust="spacingAndGlyphs" fill="#2a2a2a" class="s">39%</text>
<text x="193.80" y="286.90" font-size="6.8" textLength="13.20" lengthAdjust="spacingAndGlyphs" fill="#2a2a2a" class="s">23%</text>
<text x="213.80" y="308.20" font-size="6.8" textLength="9.40" lengthAdjust="spacingAndGlyphs" fill="#2a2a2a" class="s">5%</text>
<text x="72.00" y="315.80" font-size="6.6" fill="#2a2a2a" class="s">X</text>
<text x="77.00" y="311.60" font-size="4.2" fill="#2a2a2a" class="s">2</text>
<text x="80.00" y="315.80" font-size="6.6" textLength="48.80" lengthAdjust="spacingAndGlyphs" fill="#2a2a2a" class="s">=57.23, P&lt;0.0001</text>
<text x="28.80" y="361.20" font-size="6.3" textLength="44.70" lengthAdjust="spacingAndGlyphs" fill="#1a1a1a" class="s">Number at risk</text>
<line x1="28.80" y1="362.10" x2="73.50" y2="362.10" stroke="#1a1a1a" stroke-width="0.6"/>
<text x="28.80" y="373.30" font-size="6.7" textLength="5.30" lengthAdjust="spacingAndGlyphs" fill="#1a1a1a" class="s">PI</text>
<text x="34.80" y="368.80" font-size="3.5" fill="#1a1a1a" class="s">low</text>
<text x="41.00" y="373.30" font-size="6.5" fill="#1a1a1a" class="s">:</text>
<text x="63.40" y="373.30" font-size="6.3" fill="#1a1a1a" class="s">167</text>
<text x="82.80" y="373.30" font-size="6.3" fill="#1a1a1a" class="s">85</text>
<text x="100.30" y="373.30" font-size="6.3" fill="#1a1a1a" class="s">67</text>
<text x="118.00" y="373.30" font-size="6.3" fill="#1a1a1a" class="s">57</text>
<text x="137.00" y="373.30" font-size="6.3" fill="#1a1a1a" class="s">44</text>
<text x="155.00" y="373.30" font-size="6.3" fill="#1a1a1a" class="s">18</text>
<text x="174.25" y="373.30" font-size="6.3" fill="#1a1a1a" class="s">4</text>
<text x="192.50" y="373.30" font-size="6.3" fill="#1a1a1a" class="s">0</text>
<text x="210.50" y="373.30" font-size="6.3" fill="#1a1a1a" class="s">0</text>
<text x="228.25" y="373.30" font-size="6.3" fill="#1a1a1a" class="s">0</text>
<text x="246.25" y="373.30" font-size="6.3" fill="#1a1a1a" class="s">0</text>
<text x="28.80" y="385.00" font-size="6.7" textLength="5.30" lengthAdjust="spacingAndGlyphs" fill="#1a1a1a" class="s">PI</text>
<text x="34.80" y="380.50" font-size="3.5" fill="#1a1a1a" class="s">int</text>
<text x="39.00" y="385.00" font-size="6.5" fill="#1a1a1a" class="s">:</text>
<text x="63.40" y="385.00" font-size="6.3" fill="#1a1a1a" class="s">175</text>
<text x="82.80" y="385.00" font-size="6.3" fill="#1a1a1a" class="s">71</text>
<text x="100.30" y="385.00" font-size="6.3" fill="#1a1a1a" class="s">51</text>
<text x="118.00" y="385.00" font-size="6.3" fill="#1a1a1a" class="s">41</text>
<text x="137.00" y="385.00" font-size="6.3" fill="#1a1a1a" class="s">32</text>
<text x="155.00" y="385.00" font-size="6.3" fill="#1a1a1a" class="s">12</text>
<text x="174.25" y="385.00" font-size="6.3" fill="#1a1a1a" class="s">4</text>
<text x="192.50" y="385.00" font-size="6.3" fill="#1a1a1a" class="s">0</text>
<text x="210.50" y="385.00" font-size="6.3" fill="#1a1a1a" class="s">0</text>
<text x="228.25" y="385.00" font-size="6.3" fill="#1a1a1a" class="s">0</text>
<text x="246.25" y="385.00" font-size="6.3" fill="#1a1a1a" class="s">0</text>
<text x="28.80" y="396.60" font-size="6.7" textLength="5.30" lengthAdjust="spacingAndGlyphs" fill="#1a1a1a" class="s">PI</text>
<text x="34.80" y="392.10" font-size="3.5" fill="#1a1a1a" class="s">high</text>
<text x="42.80" y="396.60" font-size="6.5" fill="#1a1a1a" class="s">:</text>
<text x="63.40" y="396.60" font-size="6.3" fill="#1a1a1a" class="s">210</text>
<text x="82.80" y="396.60" font-size="6.3" fill="#1a1a1a" class="s">34</text>
<text x="100.30" y="396.60" font-size="6.3" fill="#1a1a1a" class="s">19</text>
<text x="118.00" y="396.60" font-size="6.3" fill="#1a1a1a" class="s">14</text>
<text x="137.00" y="396.60" font-size="6.3" fill="#1a1a1a" class="s">12</text>
<text x="155.00" y="396.60" font-size="6.3" fill="#1a1a1a" class="s">8</text>
<text x="174.25" y="396.60" font-size="6.3" fill="#1a1a1a" class="s">5</text>
<text x="192.50" y="396.60" font-size="6.3" fill="#1a1a1a" class="s">0</text>
<text x="210.50" y="396.60" font-size="6.3" fill="#1a1a1a" class="s">0</text>
<text x="228.25" y="396.60" font-size="6.3" fill="#1a1a1a" class="s">0</text>
<text x="246.25" y="396.60" font-size="6.3" fill="#1a1a1a" class="s">0</text>
<line x1="325.70" y1="200.00" x2="325.70" y2="320.60" stroke="#111" stroke-width="1.25"/>
<line x1="321.50" y1="317.40" x2="325.70" y2="317.40" stroke="#111" stroke-width="1.0"/>
<text x="317.80" y="320.00" font-size="7.3" text-anchor="end" fill="#1a1a1a" class="s">0</text>
<line x1="321.50" y1="289.11" x2="325.70" y2="289.11" stroke="#111" stroke-width="1.0"/>
<text x="317.80" y="291.71" font-size="7.3" text-anchor="end" fill="#1a1a1a" class="s">25</text>
<line x1="321.50" y1="260.82" x2="325.70" y2="260.82" stroke="#111" stroke-width="1.0"/>
<text x="317.80" y="263.43" font-size="7.3" text-anchor="end" fill="#1a1a1a" class="s">50</text>
<line x1="321.50" y1="232.54" x2="325.70" y2="232.54" stroke="#111" stroke-width="1.0"/>
<text x="317.80" y="235.14" font-size="7.3" text-anchor="end" fill="#1a1a1a" class="s">75</text>
<line x1="321.50" y1="204.25" x2="325.70" y2="204.25" stroke="#111" stroke-width="1.0"/>
<text x="317.80" y="206.85" font-size="7.3" text-anchor="end" fill="#1a1a1a" class="s">100</text>
<line x1="325.10" y1="317.40" x2="507.30" y2="317.40" stroke="#111" stroke-width="1.25"/>
<line x1="325.70" y1="317.40" x2="325.70" y2="320.60" stroke="#111" stroke-width="1.0"/>
<text x="325.70" y="332.90" font-size="7.3" text-anchor="middle" fill="#1a1a1a" class="s">0</text>
<line x1="355.55" y1="317.40" x2="355.55" y2="320.60" stroke="#111" stroke-width="1.0"/>
<text x="355.55" y="332.90" font-size="7.3" text-anchor="middle" fill="#1a1a1a" class="s">1</text>
<line x1="385.40" y1="317.40" x2="385.40" y2="320.60" stroke="#111" stroke-width="1.0"/>
<text x="385.40" y="332.90" font-size="7.3" text-anchor="middle" fill="#1a1a1a" class="s">2</text>
<line x1="415.25" y1="317.40" x2="415.25" y2="320.60" stroke="#111" stroke-width="1.0"/>
<text x="415.25" y="332.90" font-size="7.3" text-anchor="middle" fill="#1a1a1a" class="s">3</text>
<line x1="445.10" y1="317.40" x2="445.10" y2="320.60" stroke="#111" stroke-width="1.0"/>
<text x="445.10" y="332.90" font-size="7.3" text-anchor="middle" fill="#1a1a1a" class="s">4</text>
<line x1="474.95" y1="317.40" x2="474.95" y2="320.60" stroke="#111" stroke-width="1.0"/>
<text x="474.95" y="332.90" font-size="7.3" text-anchor="middle" fill="#1a1a1a" class="s">5</text>
<line x1="504.80" y1="317.40" x2="504.80" y2="320.60" stroke="#111" stroke-width="1.0"/>
<text x="504.80" y="332.90" font-size="7.3" text-anchor="middle" fill="#1a1a1a" class="s">6</text>
<line x1="325.70" y1="260.82" x2="504.00" y2="260.82" stroke="#222" stroke-width="1.35" stroke-dasharray="4.4,2.72" stroke-dashoffset="2.1"/>
<text x="0" y="0" font-size="10.4" text-anchor="middle" textLength="73.40" lengthAdjust="spacingAndGlyphs" fill="#1a1a1a" class="m" transform="translate(295.70,258.60) rotate(-90)">Percent survival</text>
<text x="352.30" y="348.30" font-size="10.4" textLength="129.90" lengthAdjust="spacingAndGlyphs" fill="#1a1a1a" class="m">Overall survival time (years)</text>
<text x="374.50" y="193.75" font-size="10.6" textLength="84.25" lengthAdjust="spacingAndGlyphs" fill="#1a1a1a" class="m">German (CN-AML)</text>
<text x="270.30" y="197.50" font-size="14.0" fill="#1a1a1a" class="m" style="stroke:none">C</text>
<path d="M325.70,204.20 H325.80 V209.00 H326.60 V214.10 H327.00 V216.43 H327.80 V221.10 H328.30 V226.30 H329.50 V228.60 H329.60 V228.93 H330.70 V232.60 H330.90 V232.87 H332.20 V234.63 H332.40 V234.90 H333.50 V237.20 H334.80 V238.16 H335.80 V238.90 H336.10 V238.96 H337.40 V239.23 H338.70 V239.50 H339.90 V242.40 H340.00 V242.55 H341.00 V244.10 H341.30 V244.20 H342.60 V244.63 H342.80 V244.70 H343.90 V248.80 H345.10 V252.80 H345.20 V253.36 H346.20 V259.00 H346.50 V262.39 H346.90 V266.90 H347.80 V269.33 H349.10 V272.83 H349.20 V273.10 H350.40 V274.88 H351.70 V276.81 H352.30 V277.70 H353.00 V278.17 H354.30 V279.05 H355.60 V279.92 H356.90 V280.80 H357.70 V285.70 H358.20 H359.50 H360.80 H362.10 H363.40 H364.70 H366.00 H366.20 H367.30 V287.75 H367.70 V288.50 H368.60 V289.37 H369.90 V290.63 H370.80 V291.50 H371.20 V291.83 H372.50 V292.89 H373.80 V293.95 H374.60 V294.60 H375.10 H376.40 H377.70 H379.00 H380.30 H381.60 H382.90 H384.20 H385.50 H386.80 H387.70 V297.20 H388.10 H389.40 H390.70 H392.00 H393.30 H394.60 H395.90 H397.20 H398.50 H399.80 H401.10 H402.40 H403.70 H405.00 H406.30 H407.60 H408.90 H410.20 H411.50 H412.80 H414.10 H415.40 H416.70 H418.00 H419.30 H420.60 H421.90 H423.20 H424.50 H425.80 H427.10 H428.40 H429.70 H431.00 H432.30 H433.60 H434.90 H436.20 H437.50 H438.80 H440.10 H440.50" fill="none" stroke="#a8243c" stroke-width="1.4" stroke-linejoin="miter" stroke-linecap="butt"/>
<line x1="423.86" y1="297.20" x2="423.86" y2="295.20" stroke="#a8243c" stroke-width="0.8"/>
<line x1="410.64" y1="297.20" x2="410.64" y2="295.20" stroke="#a8243c" stroke-width="0.8"/>
<line x1="400.17" y1="297.20" x2="400.17" y2="295.20" stroke="#a8243c" stroke-width="0.8"/>
<line x1="416.97" y1="297.20" x2="416.97" y2="295.20" stroke="#a8243c" stroke-width="0.8"/>
<line x1="414.95" y1="297.20" x2="414.95" y2="295.20" stroke="#a8243c" stroke-width="0.8"/>
<path d="M325.70,204.20 H326.20 V207.00 H327.00 V213.64 H327.20 V215.30 H328.30 V221.10 H329.60 V223.36 H330.60 V225.10 H330.90 V225.46 H332.20 V227.03 H333.50 V228.60 H334.80 V230.86 H335.80 V232.60 H336.10 V232.90 H337.40 V234.20 H338.70 V235.50 H339.30 V236.10 H340.00 V236.78 H341.30 V238.03 H342.20 V238.90 H342.60 V239.40 H343.90 V241.04 H344.50 V241.80 H345.20 V242.87 H346.50 V244.84 H346.80 V245.30 H347.80 V246.82 H349.10 V248.80 H350.30 V252.20 H350.40 V252.44 H351.70 V255.49 H352.00 V256.20 H353.00 V257.97 H354.30 V260.27 H354.60 V260.80 H355.60 V261.03 H356.90 V261.33 H358.20 V261.63 H358.50 V261.70 H359.50 V263.43 H360.80 V265.69 H361.50 V266.90 H362.10 V267.40 H363.40 V268.48 H364.70 V269.56 H366.00 V270.63 H366.20 V270.80 H367.30 V271.52 H368.60 V272.37 H369.90 V273.21 H370.80 V273.80 H371.20 V273.94 H372.50 V274.39 H373.80 V274.84 H375.10 V275.30 H375.40 V275.40 H376.40 V276.01 H377.70 V276.79 H379.00 V277.58 H379.20 V277.70 H380.30 H381.60 H382.90 H384.20 H385.50 H386.80 H388.10 H389.40 H390.70 H392.00 H393.30 H394.60 H395.00 H395.90 V277.98 H397.20 V278.38 H398.50 V278.78 H399.20 V279.00 H399.80 V279.19 H401.10 V279.62 H402.40 V280.04 H403.70 V280.46 H405.00 V280.88 H406.30 V281.30 H406.60 V281.40 H407.60 V281.50 H408.90 V281.64 H410.20 V281.77 H411.50 V281.91 H412.80 V282.05 H414.10 V282.18 H415.40 V282.32 H416.20 V282.40 H416.70 V283.15 H417.20 V283.90 H418.00 H419.30 H420.60 H421.90 H423.20 H424.50 H425.80 H427.10 H428.40 H429.70 H431.00 H432.30 H433.60 H434.90 H436.20 H437.50 H438.80 H440.10 H441.40 H442.70 H444.00 H445.30 H446.60 H447.90 H449.20 H449.40" fill="none" stroke="#2d4b82" stroke-width="1.4" stroke-linejoin="miter" stroke-linecap="butt"/>
<line x1="406.29" y1="281.30" x2="406.29" y2="279.30" stroke="#2d4b82" stroke-width="0.8"/>
<line x1="444.74" y1="283.90" x2="444.74" y2="281.90" stroke="#2d4b82" stroke-width="0.8"/>
<line x1="418.64" y1="283.90" x2="418.64" y2="281.90" stroke="#2d4b82" stroke-width="0.8"/>
<line x1="401.24" y1="279.66" x2="401.24" y2="277.66" stroke="#2d4b82" stroke-width="0.8"/>
<line x1="411.39" y1="281.90" x2="411.39" y2="279.90" stroke="#2d4b82" stroke-width="0.8"/>
<line x1="417.21" y1="283.90" x2="417.21" y2="281.90" stroke="#2d4b82" stroke-width="0.8"/>
<line x1="355.37" y1="260.98" x2="355.37" y2="258.98" stroke="#2d4b82" stroke-width="0.8"/>
<line x1="439.41" y1="283.90" x2="439.41" y2="281.90" stroke="#2d4b82" stroke-width="0.8"/>
<line x1="427.53" y1="283.90" x2="427.53" y2="281.90" stroke="#2d4b82" stroke-width="0.8"/>
<line x1="436.93" y1="283.90" x2="436.93" y2="281.90" stroke="#2d4b82" stroke-width="0.8"/>
<line x1="429.31" y1="283.90" x2="429.31" y2="281.90" stroke="#2d4b82" stroke-width="0.8"/>
<line x1="389.00" y1="277.70" x2="389.00" y2="275.70" stroke="#2d4b82" stroke-width="0.8"/>
<line x1="389.66" y1="277.70" x2="389.66" y2="275.70" stroke="#2d4b82" stroke-width="0.8"/>
<line x1="360.29" y1="264.81" x2="360.29" y2="262.81" stroke="#2d4b82" stroke-width="0.8"/>
<line x1="413.05" y1="282.07" x2="413.05" y2="280.07" stroke="#2d4b82" stroke-width="0.8"/>
<line x1="356.19" y1="261.17" x2="356.19" y2="259.17" stroke="#2d4b82" stroke-width="0.8"/>
<line x1="356.69" y1="261.28" x2="356.69" y2="259.28" stroke="#2d4b82" stroke-width="0.8"/>
<line x1="370.75" y1="273.77" x2="370.75" y2="271.77" stroke="#2d4b82" stroke-width="0.8"/>
<line x1="366.13" y1="270.74" x2="366.13" y2="268.74" stroke="#2d4b82" stroke-width="0.8"/>
<line x1="383.80" y1="277.70" x2="383.80" y2="275.70" stroke="#2d4b82" stroke-width="0.8"/>
<path d="M325.70,204.20 H326.60 V209.50 H327.00 V211.15 H328.30 V216.50 H329.60 V218.52 H330.10 V219.30 H330.90 V220.27 H332.20 V221.83 H333.00 V222.80 H333.50 V223.98 H334.70 V226.80 H334.80 V226.94 H336.10 V228.78 H337.40 V230.62 H337.60 V230.90 H338.70 V232.42 H340.00 V234.21 H340.50 V234.90 H341.30 V235.73 H342.60 V237.08 H343.30 V237.80 H343.90 V238.57 H345.10 V240.10 H345.20 V240.42 H346.20 V243.60 H346.50 V243.98 H347.80 V245.64 H348.00 V245.90 H349.10 V246.37 H350.40 V246.92 H351.70 V247.47 H352.00 V247.60 H353.00 V247.86 H354.30 V248.20 H355.60 V248.54 H356.60 V248.80 H356.90 V248.95 H358.20 V249.60 H359.50 V250.25 H360.80 V250.90 H361.20 V251.10 H362.10 V251.69 H363.40 V252.55 H364.70 V253.40 H366.00 V254.05 H367.30 V254.70 H368.10 V255.10 H368.60 H369.90 H371.20 H372.50 H373.80 H373.90 H375.10 V255.44 H376.40 V255.81 H377.70 V256.18 H379.00 V256.55 H380.30 V256.92 H381.60 V257.29 H382.00 V257.40 H382.90 V257.85 H384.20 V258.50 H385.50 V259.15 H386.20 V259.50 H386.80 V259.92 H388.10 V260.82 H389.40 V261.73 H390.70 V262.63 H390.80 V262.70 H392.00 V262.90 H393.30 V263.12 H394.60 V263.33 H395.00 V263.40 H395.90 V263.44 H397.20 V263.51 H398.50 V263.57 H399.80 V263.64 H401.10 V263.70 H402.40 V263.77 H403.70 V263.83 H405.00 V263.90 H406.30 V263.96 H407.60 V264.03 H408.90 V264.09 H410.20 V264.16 H411.50 V264.22 H412.80 V264.29 H414.10 V264.35 H415.10 V264.40 H415.40 V264.41 H416.70 V264.48 H418.00 V264.54 H419.30 V264.60 H420.60 V264.66 H421.90 V264.72 H423.20 V264.78 H424.50 V264.84 H425.80 V264.91 H427.10 V264.97 H428.40 V265.03 H429.70 V265.09 H429.90 V271.80 H431.00 H432.30 H433.60 H434.90 H436.20 H437.50 H438.80 H440.10 H441.40 H442.70 H444.00 H445.30 H446.60 H447.90 H449.20 H450.40" fill="none" stroke="#5ea33c" stroke-width="1.4" stroke-linejoin="miter" stroke-linecap="butt"/>
<line x1="345.80" y1="242.34" x2="345.80" y2="240.34" stroke="#5ea33c" stroke-width="0.8"/>
<line x1="340.03" y1="234.25" x2="340.03" y2="232.25" stroke="#5ea33c" stroke-width="0.8"/>
<line x1="356.70" y1="248.85" x2="356.70" y2="246.85" stroke="#5ea33c" stroke-width="0.8"/>
<line x1="351.20" y1="247.26" x2="351.20" y2="245.26" stroke="#5ea33c" stroke-width="0.8"/>
<line x1="380.14" y1="256.87" x2="380.14" y2="254.87" stroke="#5ea33c" stroke-width="0.8"/>
<line x1="342.82" y1="237.30" x2="342.82" y2="235.30" stroke="#5ea33c" stroke-width="0.8"/>
<line x1="436.53" y1="271.80" x2="436.53" y2="269.80" stroke="#5ea33c" stroke-width="0.8"/>
<line x1="407.79" y1="264.04" x2="407.79" y2="262.04" stroke="#5ea33c" stroke-width="0.8"/>
<line x1="356.40" y1="248.75" x2="356.40" y2="246.75" stroke="#5ea33c" stroke-width="0.8"/>
<line x1="367.85" y1="254.97" x2="367.85" y2="252.97" stroke="#5ea33c" stroke-width="0.8"/>
<line x1="378.35" y1="256.36" x2="378.35" y2="254.36" stroke="#5ea33c" stroke-width="0.8"/>
<line x1="380.20" y1="256.89" x2="380.20" y2="254.89" stroke="#5ea33c" stroke-width="0.8"/>
<line x1="353.56" y1="248.01" x2="353.56" y2="246.01" stroke="#5ea33c" stroke-width="0.8"/>
<line x1="433.72" y1="271.80" x2="433.72" y2="269.80" stroke="#5ea33c" stroke-width="0.8"/>
<line x1="449.64" y1="271.80" x2="449.64" y2="269.80" stroke="#5ea33c" stroke-width="0.8"/>
<line x1="391.45" y1="262.81" x2="391.45" y2="260.81" stroke="#5ea33c" stroke-width="0.8"/>
<line x1="393.42" y1="263.14" x2="393.42" y2="261.14" stroke="#5ea33c" stroke-width="0.8"/>
<line x1="349.48" y1="246.53" x2="349.48" y2="244.53" stroke="#5ea33c" stroke-width="0.8"/>
<line x1="351.28" y1="247.29" x2="351.28" y2="245.29" stroke="#5ea33c" stroke-width="0.8"/>
<line x1="377.83" y1="256.22" x2="377.83" y2="254.22" stroke="#5ea33c" stroke-width="0.8"/>
<line x1="369.23" y1="255.10" x2="369.23" y2="253.10" stroke="#5ea33c" stroke-width="0.8"/>
<line x1="431.51" y1="271.80" x2="431.51" y2="269.80" stroke="#5ea33c" stroke-width="0.8"/>
<line x1="357.82" y1="249.41" x2="357.82" y2="247.41" stroke="#5ea33c" stroke-width="0.8"/>
<line x1="342.55" y1="237.02" x2="342.55" y2="235.02" stroke="#5ea33c" stroke-width="0.8"/>
<line x1="444.99" y1="271.80" x2="444.99" y2="269.80" stroke="#5ea33c" stroke-width="0.8"/>
<line x1="398.32" y1="263.57" x2="398.32" y2="261.57" stroke="#5ea33c" stroke-width="0.8"/>
<line x1="356.18" y1="248.69" x2="356.18" y2="246.69" stroke="#5ea33c" stroke-width="0.8"/>
<line x1="399.97" y1="263.65" x2="399.97" y2="261.65" stroke="#5ea33c" stroke-width="0.8"/>
<line x1="342.99" y1="237.47" x2="342.99" y2="235.47" stroke="#5ea33c" stroke-width="0.8"/>
<line x1="398.30" y1="263.56" x2="398.30" y2="261.56" stroke="#5ea33c" stroke-width="0.8"/>
<line x1="448.03" y1="271.80" x2="448.03" y2="269.80" stroke="#5ea33c" stroke-width="0.8"/>
<line x1="435.31" y1="271.80" x2="435.31" y2="269.80" stroke="#5ea33c" stroke-width="0.8"/>
<line x1="401.50" y1="212.00" x2="412.00" y2="212.00" stroke="#5ea33c" stroke-width="1.3"/>
<line x1="406.75" y1="212.00" x2="406.75" y2="209.80" stroke="#5ea33c" stroke-width="0.9"/>
<text x="415.30" y="214.40" font-size="6.6" textLength="5.00" lengthAdjust="spacingAndGlyphs" fill="#1a1a1a" class="s">PI</text>
<text x="421.80" y="209.50" font-size="3.5" fill="#1a1a1a" class="s">low</text>
<text x="428.80" y="214.40" font-size="6.6" textLength="55.40" lengthAdjust="spacingAndGlyphs" fill="#1a1a1a" class="s">(median OS=2.05y)</text>
<line x1="401.50" y1="224.90" x2="412.00" y2="224.90" stroke="#2d4b82" stroke-width="1.3"/>
<line x1="406.75" y1="224.90" x2="406.75" y2="222.70" stroke="#2d4b82" stroke-width="0.9"/>
<text x="415.30" y="227.30" font-size="6.6" textLength="5.00" lengthAdjust="spacingAndGlyphs" fill="#1a1a1a" class="s">PI</text>
<text x="421.80" y="222.40" font-size="3.5" fill="#1a1a1a" class="s">int</text>
<text x="426.80" y="227.30" font-size="6.6" textLength="56.50" lengthAdjust="spacingAndGlyphs" fill="#1a1a1a" class="s">(median OS=1.10y)</text>
<line x1="401.50" y1="237.00" x2="412.00" y2="237.00" stroke="#a8243c" stroke-width="1.3"/>
<line x1="406.75" y1="237.00" x2="406.75" y2="234.80" stroke="#a8243c" stroke-width="0.9"/>
<text x="415.30" y="239.40" font-size="6.6" textLength="5.00" lengthAdjust="spacingAndGlyphs" fill="#1a1a1a" class="s">PI</text>
<text x="421.80" y="234.50" font-size="3.5" fill="#1a1a1a" class="s">high</text>
<text x="430.20" y="239.40" font-size="6.6" textLength="53.10" lengthAdjust="spacingAndGlyphs" fill="#1a1a1a" class="s">(median OS=0.7y)</text>
<text x="437.30" y="268.60" font-size="6.8" textLength="13.10" lengthAdjust="spacingAndGlyphs" fill="#2a2a2a" class="s">40%</text>
<text x="436.30" y="280.30" font-size="6.8" textLength="13.10" lengthAdjust="spacingAndGlyphs" fill="#2a2a2a" class="s">29%</text>
<text x="428.40" y="293.40" font-size="6.8" textLength="12.50" lengthAdjust="spacingAndGlyphs" fill="#2a2a2a" class="s">18%</text>
<text x="328.50" y="312.30" font-size="6.6" fill="#2a2a2a" class="s">X</text>
<text x="333.50" y="308.10" font-size="4.2" fill="#2a2a2a" class="s">2</text>
<text x="336.50" y="312.30" font-size="6.6" textLength="45.80" lengthAdjust="spacingAndGlyphs" fill="#2a2a2a" class="s">=11.7, P=0.0029</text>
<text x="285.80" y="362.00" font-size="6.3" textLength="44.60" lengthAdjust="spacingAndGlyphs" fill="#1a1a1a" class="s">Number at risk</text>
<line x1="285.80" y1="362.90" x2="330.40" y2="362.90" stroke="#1a1a1a" stroke-width="0.6"/>
<text x="285.80" y="373.60" font-size="6.7" textLength="5.30" lengthAdjust="spacingAndGlyphs" fill="#1a1a1a" class="s">PI</text>
<text x="291.80" y="369.10" font-size="3.5" fill="#1a1a1a" class="s">low</text>
<text x="298.00" y="373.60" font-size="6.5" fill="#1a1a1a" class="s">:</text>
<text x="320.00" y="373.60" font-size="6.3" fill="#1a1a1a" class="s">100</text>
<text x="351.20" y="373.60" font-size="6.3" fill="#1a1a1a" class="s">61</text>
<text x="381.10" y="373.60" font-size="6.3" fill="#1a1a1a" class="s">47</text>
<text x="411.50" y="373.60" font-size="6.3" fill="#1a1a1a" class="s">32</text>
<text x="442.70" y="373.60" font-size="6.3" fill="#1a1a1a" class="s">2</text>
<text x="472.70" y="373.60" font-size="6.3" fill="#1a1a1a" class="s">0</text>
<text x="285.80" y="385.30" font-size="6.7" textLength="5.30" lengthAdjust="spacingAndGlyphs" fill="#1a1a1a" class="s">PI</text>
<text x="291.80" y="380.80" font-size="3.5" fill="#1a1a1a" class="s">int</text>
<text x="296.00" y="385.30" font-size="6.5" fill="#1a1a1a" class="s">:</text>
<text x="320.00" y="385.30" font-size="6.3" fill="#1a1a1a" class="s">84</text>
<text x="351.20" y="385.30" font-size="6.3" fill="#1a1a1a" class="s">39</text>
<text x="381.10" y="385.30" font-size="6.3" fill="#1a1a1a" class="s">24</text>
<text x="411.50" y="385.30" font-size="6.3" fill="#1a1a1a" class="s">17</text>
<text x="442.70" y="385.30" font-size="6.3" fill="#1a1a1a" class="s">2</text>
<text x="472.70" y="385.30" font-size="6.3" fill="#1a1a1a" class="s">0</text>
<text x="285.80" y="396.90" font-size="6.7" textLength="5.30" lengthAdjust="spacingAndGlyphs" fill="#1a1a1a" class="s">PI</text>
<text x="291.80" y="392.40" font-size="3.5" fill="#1a1a1a" class="s">high</text>
<text x="299.80" y="396.90" font-size="6.5" fill="#1a1a1a" class="s">:</text>
<text x="320.00" y="396.90" font-size="6.3" fill="#1a1a1a" class="s">48</text>
<text x="351.20" y="396.90" font-size="6.3" fill="#1a1a1a" class="s">15</text>
<text x="381.10" y="396.90" font-size="6.3" fill="#1a1a1a" class="s">9</text>
<text x="411.50" y="396.90" font-size="6.3" fill="#1a1a1a" class="s">6</text>
<text x="442.70" y="396.90" font-size="6.3" fill="#1a1a1a" class="s">0</text>
<text x="472.70" y="396.90" font-size="6.3" fill="#1a1a1a" class="s">0</text>
<line x1="68.60" y1="436.25" x2="68.60" y2="556.80" stroke="#111" stroke-width="1.25"/>
<line x1="64.40" y1="553.60" x2="68.60" y2="553.60" stroke="#111" stroke-width="1.0"/>
<text x="60.70" y="556.20" font-size="7.3" text-anchor="end" fill="#1a1a1a" class="s">0</text>
<line x1="64.40" y1="525.20" x2="68.60" y2="525.20" stroke="#111" stroke-width="1.0"/>
<text x="60.70" y="527.80" font-size="7.3" text-anchor="end" fill="#1a1a1a" class="s">25</text>
<line x1="64.40" y1="496.80" x2="68.60" y2="496.80" stroke="#111" stroke-width="1.0"/>
<text x="60.70" y="499.40" font-size="7.3" text-anchor="end" fill="#1a1a1a" class="s">50</text>
<line x1="64.40" y1="468.40" x2="68.60" y2="468.40" stroke="#111" stroke-width="1.0"/>
<text x="60.70" y="471.00" font-size="7.3" text-anchor="end" fill="#1a1a1a" class="s">75</text>
<line x1="64.40" y1="440.00" x2="68.60" y2="440.00" stroke="#111" stroke-width="1.0"/>
<text x="60.70" y="442.60" font-size="7.3" text-anchor="end" fill="#1a1a1a" class="s">100</text>
<line x1="68.00" y1="553.60" x2="250.50" y2="553.60" stroke="#111" stroke-width="1.25"/>
<line x1="68.60" y1="553.60" x2="68.60" y2="556.80" stroke="#111" stroke-width="1.0"/>
<text x="68.60" y="568.90" font-size="7.3" text-anchor="middle" fill="#1a1a1a" class="s">0</text>
<line x1="86.60" y1="553.60" x2="86.60" y2="556.80" stroke="#111" stroke-width="1.0"/>
<text x="86.60" y="568.90" font-size="7.3" text-anchor="middle" fill="#1a1a1a" class="s">1</text>
<line x1="104.60" y1="553.60" x2="104.60" y2="556.80" stroke="#111" stroke-width="1.0"/>
<text x="104.60" y="568.90" font-size="7.3" text-anchor="middle" fill="#1a1a1a" class="s">2</text>
<line x1="122.60" y1="553.60" x2="122.60" y2="556.80" stroke="#111" stroke-width="1.0"/>
<text x="122.60" y="568.90" font-size="7.3" text-anchor="middle" fill="#1a1a1a" class="s">3</text>
<line x1="140.60" y1="553.60" x2="140.60" y2="556.80" stroke="#111" stroke-width="1.0"/>
<text x="140.60" y="568.90" font-size="7.3" text-anchor="middle" fill="#1a1a1a" class="s">4</text>
<line x1="158.60" y1="553.60" x2="158.60" y2="556.80" stroke="#111" stroke-width="1.0"/>
<text x="158.60" y="568.90" font-size="7.3" text-anchor="middle" fill="#1a1a1a" class="s">5</text>
<line x1="176.60" y1="553.60" x2="176.60" y2="556.80" stroke="#111" stroke-width="1.0"/>
<text x="176.60" y="568.90" font-size="7.3" text-anchor="middle" fill="#1a1a1a" class="s">6</text>
<line x1="194.60" y1="553.60" x2="194.60" y2="556.80" stroke="#111" stroke-width="1.0"/>
<text x="194.60" y="568.90" font-size="7.3" text-anchor="middle" fill="#1a1a1a" class="s">7</text>
<line x1="212.60" y1="553.60" x2="212.60" y2="556.80" stroke="#111" stroke-width="1.0"/>
<text x="212.60" y="568.90" font-size="7.3" text-anchor="middle" fill="#1a1a1a" class="s">8</text>
<line x1="230.60" y1="553.60" x2="230.60" y2="556.80" stroke="#111" stroke-width="1.0"/>
<text x="230.60" y="568.90" font-size="7.3" text-anchor="middle" fill="#1a1a1a" class="s">9</text>
<line x1="248.60" y1="553.60" x2="248.60" y2="556.80" stroke="#111" stroke-width="1.0"/>
<text x="248.60" y="568.90" font-size="7.3" text-anchor="middle" fill="#1a1a1a" class="s">10</text>
<line x1="68.60" y1="496.80" x2="249.50" y2="496.80" stroke="#222" stroke-width="1.35" stroke-dasharray="4.4,2.77" stroke-dashoffset="1.2"/>
<text x="0" y="0" font-size="10.4" text-anchor="middle" textLength="73.40" lengthAdjust="spacingAndGlyphs" fill="#1a1a1a" class="m" transform="translate(39.10,495.10) rotate(-90)">Percent survival</text>
<text x="95.80" y="584.70" font-size="10.4" textLength="129.60" lengthAdjust="spacingAndGlyphs" fill="#1a1a1a" class="m">Overall survival time (years)</text>
<text x="148.00" y="429.50" font-size="10.6" textLength="24.70" lengthAdjust="spacingAndGlyphs" fill="#1a1a1a" class="m">TCGA</text>
<text x="9.80" y="433.25" font-size="14.0" fill="#1a1a1a" class="m" style="stroke:none">D</text>
<path d="M68.60,440.00 V447.00 H69.70 V448.90 H69.90 V449.30 H70.50 V450.50 H71.20 V453.50 H72.00 V465.00 H72.50 V465.17 H73.80 V465.63 H74.30 V465.80 H75.10 V471.20 H76.20 V472.00 H76.40 V479.70 H76.60 V487.40 H77.40 V489.70 H77.70 V491.12 H78.20 V493.50 H79.00 V495.31 H79.70 V496.90 H80.30 H81.60 H82.80 H82.90 V497.89 H83.50 V503.80 H84.20 V503.98 H85.50 V504.32 H86.60 V513.10 H86.80 H88.10 H89.40 H90.70 H92.00 H93.30 H94.60 H95.90 H96.60 H97.10 V523.10 H97.20 H98.50 H99.80 H101.10 H102.40 H103.70 H105.00 H106.30 H107.60 H108.90 H110.20 H111.50 H112.80 H114.10 H114.30 H115.40 V525.89 H115.80 V526.90 H116.60 V533.00 H116.70 H118.00 H119.30 H120.60 H121.90 H123.20 H124.50 H125.80 H127.10 H128.40 H129.70 H131.00 H132.30 H133.60 H134.90 H136.20 H137.50 H138.80 H140.10 H141.40 H142.70 H144.00 H145.00" fill="none" stroke="#a8243c" stroke-width="1.4" stroke-linejoin="miter" stroke-linecap="butt"/>
<line x1="144.90" y1="533.00" x2="144.90" y2="530.90" stroke="#a8243c" stroke-width="0.9"/>
<path d="M68.60,440.00 H69.70 V441.20 H69.90 V441.27 H71.20 V441.72 H72.00 V442.00 H72.50 V443.44 H72.80 V444.30 H73.80 V445.65 H75.10 V447.40 H76.40 V449.55 H77.40 V451.20 H77.70 H78.90 H79.00 V454.30 H79.20 V460.50 H80.30 V462.45 H80.50 V462.80 H81.20 V468.20 H81.60 V469.15 H82.80 V472.00 H82.90 V472.89 H83.50 V478.20 H84.20 V480.21 H85.10 V482.80 H85.50 V483.41 H86.60 V488.90 H86.80 H88.10 H89.40 H90.70 H91.20 H92.00 V492.00 H93.30 V494.69 H93.50 V495.10 H94.60 V495.63 H95.90 V496.26 H96.60 V496.60 H97.20 V502.00 H97.40 V503.80 H98.50 V504.97 H98.90 V505.40 H99.80 V506.30 H101.10 V507.60 H102.00 V508.50 H102.40 V509.02 H103.70 V510.72 H104.30 V511.50 H105.00 V512.20 H106.30 V513.50 H106.60 V513.80 H107.60 V515.74 H108.20 V516.90 H108.90 V517.62 H110.20 V518.97 H111.20 V520.00 H111.50 V520.30 H112.80 V521.60 H114.10 V522.90 H114.30 V523.10 H115.40 V525.89 H115.80 V526.90 H116.70 H118.00 H119.30 H120.60 H121.90 H123.20 H124.50 H125.80 H127.10 H128.40 H129.70 H131.00 H132.30 H133.60 H134.90 H136.20 H137.50 H138.75 V532.00 H138.80 H140.10 H141.40 H142.70 H144.00 H145.30 H146.60 H147.90 H148.75 V538.75 H149.20 H150.50 H151.80 H153.10 H154.40 H155.70 H157.00 H158.30 H159.60 H160.90 H162.20 H163.50 H164.80 H166.10 H167.40 H168.70 H170.00 H171.30 H172.60 H173.90 H175.20 H176.50 H177.50" fill="none" stroke="#2d4b82" stroke-width="1.4" stroke-linejoin="miter" stroke-linecap="butt"/>
<line x1="96.00" y1="496.31" x2="96.00" y2="494.21" stroke="#2d4b82" stroke-width="0.9"/>
<line x1="161.25" y1="538.75" x2="161.25" y2="536.65" stroke="#2d4b82" stroke-width="0.9"/>
<line x1="177.20" y1="538.75" x2="177.20" y2="536.65" stroke="#2d4b82" stroke-width="0.9"/>
<path d="M68.60,440.00 H69.90 V440.61 H70.30 V447.80 H71.20 H72.50 H73.80 H74.40 V449.30 H75.10 V449.68 H76.40 V450.39 H76.60 V450.50 H77.60 V462.80 H77.70 V462.97 H78.90 V465.00 H79.00 V465.34 H80.30 V469.81 H80.50 V470.50 H81.60 V471.93 H82.80 V473.50 H82.90 V473.81 H84.20 V477.89 H84.30 V478.20 H85.50 V481.88 H85.80 V482.80 H86.80 H88.10 H89.40 H90.70 H92.00 H92.80 V487.40 H93.30 H94.60 H95.90 H97.20 H98.50 H98.90 V491.00 H99.80 H101.10 H102.40 H103.70 H104.30 H105.00 V494.59 H105.10 V495.10 H106.30 V495.57 H107.40 V496.00 H107.60 V496.92 H108.20 V499.70 H108.90 V503.10 H109.70 V507.40 H110.20 V509.96 H110.50 V511.50 H111.50 H112.80 H114.10 H115.40 H116.70 H118.00 H119.30 H120.60 H121.90 H123.20 H124.50 H125.80 H127.10 H128.40 H129.70 H131.00 H132.30 H133.60 H134.90 H136.20 H137.00 V518.75 H137.50 H138.80 H140.10 H141.40 H142.70 H144.00 H145.30 H146.60 H147.90 H149.20 H150.50 H151.80 H152.50 V527.50 H153.10 H154.40 H155.70 H157.00 H158.30 H159.60 H160.90 H162.20 H163.50 H164.80 H166.10 H167.40 H168.70 H170.00 H171.30 H172.60 H173.90 H175.20 H176.50 H177.80 H179.10 H180.40 H181.70 H183.00 H184.30 H185.60 H186.90 H188.20 H189.50 H190.80 H192.10 H193.40 H194.70 H196.00 H197.30 H198.60 H199.90 H201.20 H202.50 H203.80 H205.10 H206.40 H207.70 H209.00 H209.50" fill="none" stroke="#5ea33c" stroke-width="1.4" stroke-linejoin="miter" stroke-linecap="butt"/>
<line x1="99.50" y1="491.00" x2="99.50" y2="488.90" stroke="#5ea33c" stroke-width="0.9"/>
<line x1="151.25" y1="518.75" x2="151.25" y2="516.65" stroke="#5ea33c" stroke-width="0.9"/>
<line x1="181.25" y1="527.50" x2="181.25" y2="525.40" stroke="#5ea33c" stroke-width="0.9"/>
<line x1="191.25" y1="527.50" x2="191.25" y2="525.40" stroke="#5ea33c" stroke-width="0.9"/>
<line x1="209.20" y1="527.50" x2="209.20" y2="525.40" stroke="#5ea33c" stroke-width="0.9"/>
<line x1="143.20" y1="448.50" x2="153.60" y2="448.50" stroke="#5ea33c" stroke-width="1.3"/>
<line x1="148.40" y1="448.50" x2="148.40" y2="446.30" stroke="#5ea33c" stroke-width="0.9"/>
<text x="156.50" y="450.90" font-size="6.6" textLength="5.00" lengthAdjust="spacingAndGlyphs" fill="#1a1a1a" class="s">PI</text>
<text x="162.10" y="446.00" font-size="3.5" fill="#1a1a1a" class="s">low</text>
<text x="169.70" y="450.90" font-size="6.6" textLength="56.60" lengthAdjust="spacingAndGlyphs" fill="#1a1a1a" class="s">(median OS=2.17y)</text>
<line x1="143.20" y1="461.20" x2="153.60" y2="461.20" stroke="#2d4b82" stroke-width="1.3"/>
<line x1="148.40" y1="461.20" x2="148.40" y2="459.00" stroke="#2d4b82" stroke-width="0.9"/>
<text x="156.50" y="463.60" font-size="6.6" textLength="5.00" lengthAdjust="spacingAndGlyphs" fill="#1a1a1a" class="s">PI</text>
<text x="162.10" y="458.70" font-size="3.5" fill="#1a1a1a" class="s">int</text>
<text x="168.60" y="463.60" font-size="6.6" textLength="56.40" lengthAdjust="spacingAndGlyphs" fill="#1a1a1a" class="s">(median OS=1.58y)</text>
<line x1="143.20" y1="473.80" x2="153.60" y2="473.80" stroke="#a8243c" stroke-width="1.3"/>
<line x1="148.40" y1="473.80" x2="148.40" y2="471.60" stroke="#a8243c" stroke-width="0.9"/>
<text x="156.50" y="476.20" font-size="6.6" textLength="5.00" lengthAdjust="spacingAndGlyphs" fill="#1a1a1a" class="s">PI</text>
<text x="162.10" y="471.30" font-size="3.5" fill="#1a1a1a" class="s">high</text>
<text x="172.40" y="476.20" font-size="6.6" textLength="55.70" lengthAdjust="spacingAndGlyphs" fill="#1a1a1a" class="s">(median OS=0.83y)</text>
<text x="195.50" y="522.15" font-size="6.8" textLength="12.50" lengthAdjust="spacingAndGlyphs" fill="#2a2a2a" class="s">23%</text>
<text x="184.50" y="540.40" font-size="6.8" textLength="11.75" lengthAdjust="spacingAndGlyphs" fill="#2a2a2a" class="s">19%</text>
<text x="128.90" y="541.20" font-size="6.8" textLength="12.35" lengthAdjust="spacingAndGlyphs" fill="#2a2a2a" class="s">13%</text>
<text x="71.50" y="548.20" font-size="6.6" fill="#2a2a2a" class="s">X</text>
<text x="76.50" y="544.00" font-size="4.2" fill="#2a2a2a" class="s">2</text>
<text x="79.50" y="548.20" font-size="6.6" textLength="42.50" lengthAdjust="spacingAndGlyphs" fill="#2a2a2a" class="s">=4.29, P=0.038</text>
<text x="28.80" y="597.80" font-size="6.3" textLength="44.70" lengthAdjust="spacingAndGlyphs" fill="#1a1a1a" class="s">Number at risk</text>
<line x1="28.80" y1="598.70" x2="73.50" y2="598.70" stroke="#1a1a1a" stroke-width="0.6"/>
<text x="28.80" y="609.80" font-size="6.7" textLength="5.30" lengthAdjust="spacingAndGlyphs" fill="#1a1a1a" class="s">PI</text>
<text x="34.80" y="605.30" font-size="3.5" fill="#1a1a1a" class="s">low</text>
<text x="41.00" y="609.80" font-size="6.5" fill="#1a1a1a" class="s">:</text>
<text x="64.50" y="609.80" font-size="6.3" fill="#1a1a1a" class="s">43</text>
<text x="82.80" y="609.80" font-size="6.3" fill="#1a1a1a" class="s">24</text>
<text x="101.20" y="609.80" font-size="6.3" fill="#1a1a1a" class="s">17</text>
<text x="120.90" y="609.80" font-size="6.3" fill="#1a1a1a" class="s">9</text>
<text x="138.75" y="609.80" font-size="6.3" fill="#1a1a1a" class="s">6</text>
<text x="156.25" y="609.80" font-size="6.3" fill="#1a1a1a" class="s">4</text>
<text x="174.50" y="609.80" font-size="6.3" fill="#1a1a1a" class="s">4</text>
<text x="192.50" y="609.80" font-size="6.3" fill="#1a1a1a" class="s">2</text>
<text x="210.50" y="609.80" font-size="6.3" fill="#1a1a1a" class="s">0</text>
<text x="228.25" y="609.80" font-size="6.3" fill="#1a1a1a" class="s">0</text>
<text x="246.25" y="609.80" font-size="6.3" fill="#1a1a1a" class="s">0</text>
<text x="28.80" y="621.70" font-size="6.7" textLength="5.30" lengthAdjust="spacingAndGlyphs" fill="#1a1a1a" class="s">PI</text>
<text x="34.80" y="617.20" font-size="3.5" fill="#1a1a1a" class="s">int</text>
<text x="39.00" y="621.70" font-size="6.5" fill="#1a1a1a" class="s">:</text>
<text x="64.50" y="621.70" font-size="6.3" fill="#1a1a1a" class="s">52</text>
<text x="82.80" y="621.70" font-size="6.3" fill="#1a1a1a" class="s">29</text>
<text x="101.20" y="621.70" font-size="6.3" fill="#1a1a1a" class="s">14</text>
<text x="120.90" y="621.70" font-size="6.3" fill="#1a1a1a" class="s">9</text>
<text x="138.75" y="621.70" font-size="6.3" fill="#1a1a1a" class="s">5</text>
<text x="156.25" y="621.70" font-size="6.3" fill="#1a1a1a" class="s">3</text>
<text x="174.50" y="621.70" font-size="6.3" fill="#1a1a1a" class="s">2</text>
<text x="192.50" y="621.70" font-size="6.3" fill="#1a1a1a" class="s">0</text>
<text x="210.50" y="621.70" font-size="6.3" fill="#1a1a1a" class="s">0</text>
<text x="228.25" y="621.70" font-size="6.3" fill="#1a1a1a" class="s">0</text>
<text x="246.25" y="621.70" font-size="6.3" fill="#1a1a1a" class="s">0</text>
<text x="28.80" y="633.50" font-size="6.7" textLength="5.30" lengthAdjust="spacingAndGlyphs" fill="#1a1a1a" class="s">PI</text>
<text x="34.80" y="629.00" font-size="3.5" fill="#1a1a1a" class="s">high</text>
<text x="42.80" y="633.50" font-size="6.5" fill="#1a1a1a" class="s">:</text>
<text x="64.50" y="633.50" font-size="6.3" fill="#1a1a1a" class="s">24</text>
<text x="82.80" y="633.50" font-size="6.3" fill="#1a1a1a" class="s">7</text>
<text x="101.20" y="633.50" font-size="6.3" fill="#1a1a1a" class="s">4</text>
<text x="120.90" y="633.50" font-size="6.3" fill="#1a1a1a" class="s">3</text>
<text x="138.75" y="633.50" font-size="6.3" fill="#1a1a1a" class="s">2</text>
<text x="156.25" y="633.50" font-size="6.3" fill="#1a1a1a" class="s">0</text>
<text x="174.50" y="633.50" font-size="6.3" fill="#1a1a1a" class="s">0</text>
<text x="192.50" y="633.50" font-size="6.3" fill="#1a1a1a" class="s">0</text>
<text x="210.50" y="633.50" font-size="6.3" fill="#1a1a1a" class="s">0</text>
<text x="228.25" y="633.50" font-size="6.3" fill="#1a1a1a" class="s">0</text>
<text x="246.25" y="633.50" font-size="6.3" fill="#1a1a1a" class="s">0</text>
<line x1="325.70" y1="435.50" x2="325.70" y2="556.80" stroke="#111" stroke-width="1.25"/>
<line x1="321.50" y1="553.60" x2="325.70" y2="553.60" stroke="#111" stroke-width="1.0"/>
<text x="317.80" y="556.20" font-size="7.3" text-anchor="end" fill="#1a1a1a" class="s">0</text>
<line x1="321.50" y1="525.01" x2="325.70" y2="525.01" stroke="#111" stroke-width="1.0"/>
<text x="317.80" y="527.61" font-size="7.3" text-anchor="end" fill="#1a1a1a" class="s">25</text>
<line x1="321.50" y1="496.43" x2="325.70" y2="496.43" stroke="#111" stroke-width="1.0"/>
<text x="317.80" y="499.03" font-size="7.3" text-anchor="end" fill="#1a1a1a" class="s">50</text>
<line x1="321.50" y1="467.84" x2="325.70" y2="467.84" stroke="#111" stroke-width="1.0"/>
<text x="317.80" y="470.44" font-size="7.3" text-anchor="end" fill="#1a1a1a" class="s">75</text>
<line x1="321.50" y1="439.25" x2="325.70" y2="439.25" stroke="#111" stroke-width="1.0"/>
<text x="317.80" y="441.85" font-size="7.3" text-anchor="end" fill="#1a1a1a" class="s">100</text>
<line x1="325.10" y1="553.60" x2="509.00" y2="553.60" stroke="#111" stroke-width="1.25"/>
<line x1="325.70" y1="553.60" x2="325.70" y2="556.80" stroke="#111" stroke-width="1.0"/>
<text x="325.70" y="568.90" font-size="7.3" text-anchor="middle" fill="#1a1a1a" class="s">0</text>
<line x1="361.90" y1="553.60" x2="361.90" y2="556.80" stroke="#111" stroke-width="1.0"/>
<text x="361.90" y="568.90" font-size="7.3" text-anchor="middle" fill="#1a1a1a" class="s">1</text>
<line x1="398.10" y1="553.60" x2="398.10" y2="556.80" stroke="#111" stroke-width="1.0"/>
<text x="398.10" y="568.90" font-size="7.3" text-anchor="middle" fill="#1a1a1a" class="s">2</text>
<line x1="434.30" y1="553.60" x2="434.30" y2="556.80" stroke="#111" stroke-width="1.0"/>
<text x="434.30" y="568.90" font-size="7.3" text-anchor="middle" fill="#1a1a1a" class="s">3</text>
<line x1="470.50" y1="553.60" x2="470.50" y2="556.80" stroke="#111" stroke-width="1.0"/>
<text x="470.50" y="568.90" font-size="7.3" text-anchor="middle" fill="#1a1a1a" class="s">4</text>
<line x1="506.70" y1="553.60" x2="506.70" y2="556.80" stroke="#111" stroke-width="1.0"/>
<text x="506.70" y="568.90" font-size="7.3" text-anchor="middle" fill="#1a1a1a" class="s">5</text>
<line x1="325.70" y1="496.43" x2="506.00" y2="496.43" stroke="#222" stroke-width="1.35" stroke-dasharray="4.4,2.74" stroke-dashoffset="2.3"/>
<text x="0" y="0" font-size="10.4" text-anchor="middle" textLength="73.90" lengthAdjust="spacingAndGlyphs" fill="#1a1a1a" class="m" transform="translate(295.90,494.50) rotate(-90)">Percent survival</text>
<text x="353.50" y="584.50" font-size="10.4" textLength="128.80" lengthAdjust="spacingAndGlyphs" fill="#1a1a1a" class="m">Overall survival time (years)</text>
<text x="395.70" y="428.80" font-size="10.6" textLength="43.80" lengthAdjust="spacingAndGlyphs" fill="#1a1a1a" class="m">Beat AML</text>
<text x="270.30" y="433.25" font-size="14.0" fill="#1a1a1a" class="m" style="stroke:none">E</text>
<path d="M325.75,439.25 H326.50 V447.50 H327.05 V450.94 H327.50 V453.75 H328.35 V454.88 H329.65 V456.62 H330.95 V458.35 H331.25 V458.75 H332.25 V460.08 H333.55 V461.82 H334.85 V463.55 H335.00 V463.75 H336.15 V464.90 H337.45 V466.20 H338.75 V467.50 H340.00 V468.75 H340.05 V468.81 H341.35 V470.44 H342.65 V472.06 H343.95 V473.69 H345.00 V475.00 H345.25 V475.33 H346.55 V477.07 H347.85 V478.80 H348.75 V480.00 H349.15 V481.04 H350.45 V484.44 H351.70 V487.70 H351.75 V487.76 H353.05 V489.36 H354.35 V490.96 H355.60 V492.50 H355.65 V492.68 H356.95 V497.26 H357.50 V499.20 H358.25 V501.68 H359.55 V505.99 H360.40 V508.80 H360.85 V509.04 H362.15 V509.72 H363.45 V510.41 H364.20 V510.80 H364.75 V511.07 H366.05 V511.70 H367.35 V512.33 H368.10 V512.70 H368.65 V513.61 H369.95 V515.76 H371.00 V517.50 H371.25 V517.63 H372.55 V518.29 H373.85 V518.95 H375.15 V519.61 H376.45 V520.27 H376.70 V520.40 H377.75 H379.05 H380.35 H381.65 H382.95 H384.25 H385.55 H386.85 H387.30 H388.15 V525.33 H388.30 V526.20 H389.45 V526.29 H390.75 V526.39 H392.05 V526.49 H393.35 V526.59 H394.65 V526.70 H394.70 H395.30 V532.00 H395.95 H397.25 V532.03 H398.55 V532.05 H399.85 V532.07 H401.15 V532.09 H402.45 V532.10 H403.75 V532.12 H405.05 V532.14 H406.35 V532.16 H407.65 V532.18 H408.95 V532.20 H409.00 H410.25 V534.36 H411.20 V536.00 H411.55 H412.85 H414.15 H415.45 H416.75 H418.05 H419.35 H420.65 H421.95 H423.25 H424.55 H425.85 H427.15 H428.45 H429.75 H431.05 H432.35 H433.65 H434.95 H436.25 H437.55 H438.85 H440.15 H441.45 H442.75 H444.05 H445.35 H446.65 H447.95 H448.20 V544.50 H449.25 H450.55 H451.85 H453.15 H454.45 H455.75 H457.05 H458.35 H459.65 H460.95 H462.25 H462.60" fill="none" stroke="#a8243c" stroke-width="1.4" stroke-linejoin="miter" stroke-linecap="butt"/>
<line x1="379.00" y1="520.40" x2="379.00" y2="518.30" stroke="#a8243c" stroke-width="0.9"/>
<line x1="408.00" y1="532.19" x2="408.00" y2="530.09" stroke="#a8243c" stroke-width="0.9"/>
<line x1="421.70" y1="536.00" x2="421.70" y2="533.90" stroke="#a8243c" stroke-width="0.9"/>
<line x1="426.00" y1="536.00" x2="426.00" y2="533.90" stroke="#a8243c" stroke-width="0.9"/>
<line x1="429.10" y1="536.00" x2="429.10" y2="533.90" stroke="#a8243c" stroke-width="0.9"/>
<line x1="462.30" y1="544.50" x2="462.30" y2="542.40" stroke="#a8243c" stroke-width="0.9"/>
<path d="M325.75,439.25 H326.50 V447.50 H327.05 V449.44 H328.00 V452.80 H328.35 V453.27 H329.65 V455.03 H330.00 V455.50 H330.95 H332.25 H333.55 H334.85 H336.15 H336.80 H337.45 V456.38 H338.75 V458.13 H338.80 V458.20 H340.05 V459.23 H341.35 V460.30 H342.20 V461.00 H342.65 V461.30 H343.95 V462.17 H345.25 V463.03 H346.55 V463.90 H347.00 V464.20 H347.85 V465.72 H348.90 V467.60 H349.15 V467.98 H350.30 V469.70 H350.45 V469.95 H351.75 V472.09 H352.30 V473.00 H353.05 V473.52 H354.30 V474.40 H354.35 V474.46 H355.65 V476.15 H356.30 V477.00 H356.95 V478.58 H357.70 V480.40 H358.25 V480.52 H359.55 V480.79 H360.85 V481.07 H361.00 V481.10 H362.15 V482.74 H362.40 V483.10 H363.45 V483.46 H364.75 V483.90 H366.05 V484.35 H366.50 V484.50 H367.35 V486.84 H367.70 V487.80 H368.65 V491.46 H369.10 V493.20 H369.95 H371.25 H372.55 H373.85 H375.15 H376.45 H377.75 H379.05 H380.35 H381.65 H382.95 H384.25 H385.55 H386.85 H387.60 H388.15 V495.47 H388.40 V496.50 H389.45 V496.56 H390.75 V496.64 H392.05 V496.72 H393.35 V496.80 H394.65 V496.88 H395.00 V496.90 H395.95 V499.05 H396.90 V501.20 H397.25 V501.90 H398.55 V504.50 H398.80 V505.00 H399.80 V507.90 H399.85 H401.15 V507.91 H402.45 V507.92 H403.75 V507.94 H405.05 V507.95 H406.35 V507.96 H407.65 V507.97 H408.95 V507.98 H410.25 V508.00 H411.55 V508.01 H412.85 V508.02 H414.15 V508.03 H415.45 V508.04 H416.75 V508.05 H418.05 V508.07 H419.35 V508.08 H420.65 V508.09 H421.70 H421.95 V510.01 H422.80 V516.50 H423.25 V517.87 H424.55 V521.83 H424.90 V522.90 H425.85 H427.15 H428.45 H429.75 H431.05 H432.35 H433.65 H434.95 H436.25 H437.55 H438.85 H440.15 H441.45 H442.75 H444.05 H445.35 H446.65 H447.95 H449.25 H450.55 H451.85 H453.15 H454.45 H455.75 H457.05 H458.35 H459.65 H460.95 H462.25 H463.55 H464.85 H466.15 H467.45 H468.30" fill="none" stroke="#2d4b82" stroke-width="1.4" stroke-linejoin="miter" stroke-linecap="butt"/>
<line x1="333.00" y1="455.50" x2="333.00" y2="453.40" stroke="#2d4b82" stroke-width="0.9"/>
<line x1="334.80" y1="455.50" x2="334.80" y2="453.40" stroke="#2d4b82" stroke-width="0.9"/>
<line x1="372.00" y1="493.20" x2="372.00" y2="491.10" stroke="#2d4b82" stroke-width="0.9"/>
<line x1="374.50" y1="493.20" x2="374.50" y2="491.10" stroke="#2d4b82" stroke-width="0.9"/>
<line x1="377.50" y1="493.20" x2="377.50" y2="491.10" stroke="#2d4b82" stroke-width="0.9"/>
<line x1="380.50" y1="493.20" x2="380.50" y2="491.10" stroke="#2d4b82" stroke-width="0.9"/>
<line x1="383.50" y1="493.20" x2="383.50" y2="491.10" stroke="#2d4b82" stroke-width="0.9"/>
<line x1="402.70" y1="507.93" x2="402.70" y2="505.83" stroke="#2d4b82" stroke-width="0.9"/>
<line x1="405.90" y1="507.96" x2="405.90" y2="505.86" stroke="#2d4b82" stroke-width="0.9"/>
<line x1="410.10" y1="507.99" x2="410.10" y2="505.89" stroke="#2d4b82" stroke-width="0.9"/>
<line x1="447.10" y1="522.90" x2="447.10" y2="520.80" stroke="#2d4b82" stroke-width="0.9"/>
<line x1="468.00" y1="522.90" x2="468.00" y2="520.80" stroke="#2d4b82" stroke-width="0.9"/>
<path d="M325.75,439.25 H326.50 V446.25 H327.05 H328.35 H329.65 H330.95 H332.25 H333.55 H334.85 H336.15 H337.45 H338.75 H338.80 V448.50 H340.05 H340.80 V454.20 H341.35 H342.65 H343.95 H345.25 H345.50 V458.90 H346.55 H347.85 H349.15 H350.30 V468.30 H350.45 H351.75 H353.05 H354.35 H355.65 H356.95 H358.25 H358.30 H358.60 V473.70 H359.55 H360.85 H362.15 H363.45 H364.75 H366.05 H367.35 H368.65 H369.95 H371.25 H372.55 H373.85 H375.15 H376.45 H377.75 H379.05 H380.35 H381.65 H382.60 H382.95 V479.01 H383.20 V482.80 H384.25 H385.55 H386.85 H388.15 H389.45 H390.75 H392.05 H393.35 H394.65 H395.95 H397.25 H398.55 H399.85 H401.15 H402.45 H403.75 H405.05 H406.35 H407.65 H408.95 H410.25 H411.55 H412.85 H414.15 H415.45 H416.75 H418.05 H419.35 H420.65 H421.95 H422.20 V500.70 H423.25 H424.55 H425.85 H427.15 H428.45 H429.75 H431.05 H432.35 H433.65 H434.95 H436.25 H437.55 H438.85 H440.15 H441.45 H442.75 H444.05 H445.35 H446.65 H447.95 H449.25 H450.55 H451.85 H453.15 H454.45 H455.75 H457.05 H458.35 H459.65 H460.95 H462.25 H463.55 H464.85 H466.15 H467.45 H468.75 H470.05 H471.35 H472.50" fill="none" stroke="#5ea33c" stroke-width="1.4" stroke-linejoin="miter" stroke-linecap="butt"/>
<line x1="333.50" y1="446.25" x2="333.50" y2="444.15" stroke="#5ea33c" stroke-width="0.9"/>
<line x1="344.00" y1="454.20" x2="344.00" y2="452.10" stroke="#5ea33c" stroke-width="0.9"/>
<line x1="365.00" y1="473.70" x2="365.00" y2="471.60" stroke="#5ea33c" stroke-width="0.9"/>
<line x1="370.00" y1="473.70" x2="370.00" y2="471.60" stroke="#5ea33c" stroke-width="0.9"/>
<line x1="375.50" y1="473.70" x2="375.50" y2="471.60" stroke="#5ea33c" stroke-width="0.9"/>
<line x1="401.00" y1="482.80" x2="401.00" y2="480.70" stroke="#5ea33c" stroke-width="0.9"/>
<line x1="410.10" y1="482.80" x2="410.10" y2="480.70" stroke="#5ea33c" stroke-width="0.9"/>
<line x1="414.30" y1="482.80" x2="414.30" y2="480.70" stroke="#5ea33c" stroke-width="0.9"/>
<line x1="445.40" y1="500.70" x2="445.40" y2="498.60" stroke="#5ea33c" stroke-width="0.9"/>
<line x1="472.20" y1="500.70" x2="472.20" y2="498.60" stroke="#5ea33c" stroke-width="0.9"/>
<line x1="401.90" y1="447.60" x2="412.30" y2="447.60" stroke="#5ea33c" stroke-width="1.3"/>
<line x1="407.10" y1="447.60" x2="407.10" y2="445.40" stroke="#5ea33c" stroke-width="0.9"/>
<text x="415.30" y="450.00" font-size="6.6" textLength="5.00" lengthAdjust="spacingAndGlyphs" fill="#1a1a1a" class="s">PI</text>
<text x="421.60" y="445.10" font-size="3.5" fill="#1a1a1a" class="s">low</text>
<text x="429.30" y="450.00" font-size="6.6" textLength="55.70" lengthAdjust="spacingAndGlyphs" fill="#1a1a1a" class="s">(median OS=2.68y)</text>
<line x1="401.90" y1="459.90" x2="412.30" y2="459.90" stroke="#2d4b82" stroke-width="1.3"/>
<line x1="407.10" y1="459.90" x2="407.10" y2="457.70" stroke="#2d4b82" stroke-width="0.9"/>
<text x="415.30" y="462.30" font-size="6.6" textLength="5.00" lengthAdjust="spacingAndGlyphs" fill="#1a1a1a" class="s">PI</text>
<text x="421.60" y="457.40" font-size="3.5" fill="#1a1a1a" class="s">int</text>
<text x="426.80" y="462.30" font-size="6.6" textLength="56.60" lengthAdjust="spacingAndGlyphs" fill="#1a1a1a" class="s">(median OS=1.73y)</text>
<line x1="401.90" y1="472.40" x2="412.30" y2="472.40" stroke="#a8243c" stroke-width="1.3"/>
<line x1="407.10" y1="472.40" x2="407.10" y2="470.20" stroke="#a8243c" stroke-width="0.9"/>
<text x="415.30" y="474.80" font-size="6.6" textLength="5.00" lengthAdjust="spacingAndGlyphs" fill="#1a1a1a" class="s">PI</text>
<text x="421.60" y="469.90" font-size="3.5" fill="#1a1a1a" class="s">high</text>
<text x="431.20" y="474.80" font-size="6.6" textLength="55.40" lengthAdjust="spacingAndGlyphs" fill="#1a1a1a" class="s">(median OS=0.87y)</text>
<text x="453.50" y="495.40" font-size="6.8" textLength="19.00" lengthAdjust="spacingAndGlyphs" fill="#2a2a2a" class="s" font-style="italic">46.5%</text>
<text x="450.90" y="519.10" font-size="6.8" textLength="17.80" lengthAdjust="spacingAndGlyphs" fill="#2a2a2a" class="s" font-style="italic">26.7%</text>
<text x="450.90" y="540.80" font-size="6.8" textLength="14.20" lengthAdjust="spacingAndGlyphs" fill="#2a2a2a" class="s" font-style="italic">7.7%</text>
<text x="328.70" y="548.30" font-size="6.6" fill="#2a2a2a" class="s">X</text>
<text x="333.70" y="544.10" font-size="4.2" fill="#2a2a2a" class="s">2</text>
<text x="336.70" y="548.30" font-size="6.6" textLength="45.80" lengthAdjust="spacingAndGlyphs" fill="#2a2a2a" class="s">=14.7, P=0.0006</text>
<text x="285.80" y="598.10" font-size="6.3" textLength="44.50" lengthAdjust="spacingAndGlyphs" fill="#1a1a1a" class="s">Number at risk</text>
<line x1="285.80" y1="599.00" x2="330.30" y2="599.00" stroke="#1a1a1a" stroke-width="0.6"/>
<text x="285.80" y="609.90" font-size="6.7" textLength="5.30" lengthAdjust="spacingAndGlyphs" fill="#1a1a1a" class="s">PI</text>
<text x="291.80" y="605.40" font-size="3.5" fill="#1a1a1a" class="s">low</text>
<text x="298.00" y="609.90" font-size="6.5" fill="#1a1a1a" class="s">:</text>
<text x="319.70" y="609.90" font-size="6.3" fill="#1a1a1a" class="s">31</text>
<text x="358.00" y="609.90" font-size="6.3" fill="#1a1a1a" class="s">17</text>
<text x="393.75" y="609.90" font-size="6.3" fill="#1a1a1a" class="s">9</text>
<text x="432.00" y="609.90" font-size="6.3" fill="#1a1a1a" class="s">3</text>
<text x="468.75" y="609.90" font-size="6.3" fill="#1a1a1a" class="s">2</text>
<text x="505.00" y="609.90" font-size="6.3" fill="#1a1a1a" class="s">0</text>
<text x="285.80" y="621.50" font-size="6.7" textLength="5.30" lengthAdjust="spacingAndGlyphs" fill="#1a1a1a" class="s">PI</text>
<text x="291.80" y="617.00" font-size="3.5" fill="#1a1a1a" class="s">int</text>
<text x="296.00" y="621.50" font-size="6.5" fill="#1a1a1a" class="s">:</text>
<text x="319.70" y="621.50" font-size="6.3" fill="#1a1a1a" class="s">106</text>
<text x="358.00" y="621.50" font-size="6.3" fill="#1a1a1a" class="s">40</text>
<text x="393.75" y="621.50" font-size="6.3" fill="#1a1a1a" class="s">15</text>
<text x="432.00" y="621.50" font-size="6.3" fill="#1a1a1a" class="s">4</text>
<text x="468.75" y="621.50" font-size="6.3" fill="#1a1a1a" class="s">0</text>
<text x="505.00" y="621.50" font-size="6.3" fill="#1a1a1a" class="s">0</text>
<text x="285.80" y="633.20" font-size="6.7" textLength="5.30" lengthAdjust="spacingAndGlyphs" fill="#1a1a1a" class="s">PI</text>
<text x="291.80" y="628.70" font-size="3.5" fill="#1a1a1a" class="s">high</text>
<text x="299.80" y="633.20" font-size="6.5" fill="#1a1a1a" class="s">:</text>
<text x="319.70" y="633.20" font-size="6.3" fill="#1a1a1a" class="s">103</text>
<text x="358.00" y="633.20" font-size="6.3" fill="#1a1a1a" class="s">30</text>
<text x="393.75" y="633.20" font-size="6.3" fill="#1a1a1a" class="s">8</text>
<text x="432.00" y="633.20" font-size="6.3" fill="#1a1a1a" class="s">3</text>
<text x="468.75" y="633.20" font-size="6.3" fill="#1a1a1a" class="s">0</text>
<text x="505.00" y="633.20" font-size="6.3" fill="#1a1a1a" class="s">0</text>
<line x1="68.50" y1="671.25" x2="68.50" y2="794.40" stroke="#111" stroke-width="1.25"/>
<line x1="64.30" y1="791.20" x2="68.50" y2="791.20" stroke="#111" stroke-width="1.0"/>
<text x="60.60" y="793.80" font-size="7.3" text-anchor="end" fill="#1a1a1a" class="s">0</text>
<line x1="64.30" y1="762.28" x2="68.50" y2="762.28" stroke="#111" stroke-width="1.0"/>
<text x="60.60" y="764.88" font-size="7.3" text-anchor="end" fill="#1a1a1a" class="s">25</text>
<line x1="64.30" y1="733.35" x2="68.50" y2="733.35" stroke="#111" stroke-width="1.0"/>
<text x="60.60" y="735.95" font-size="7.3" text-anchor="end" fill="#1a1a1a" class="s">50</text>
<line x1="64.30" y1="704.42" x2="68.50" y2="704.42" stroke="#111" stroke-width="1.0"/>
<text x="60.60" y="707.02" font-size="7.3" text-anchor="end" fill="#1a1a1a" class="s">75</text>
<line x1="64.30" y1="675.50" x2="68.50" y2="675.50" stroke="#111" stroke-width="1.0"/>
<text x="60.60" y="678.10" font-size="7.3" text-anchor="end" fill="#1a1a1a" class="s">100</text>
<line x1="67.90" y1="791.20" x2="252.50" y2="791.20" stroke="#111" stroke-width="1.25"/>
<line x1="68.50" y1="791.20" x2="68.50" y2="794.40" stroke="#111" stroke-width="1.0"/>
<text x="68.50" y="806.30" font-size="7.3" text-anchor="middle" fill="#1a1a1a" class="s">0</text>
<line x1="86.83" y1="791.20" x2="86.83" y2="794.40" stroke="#111" stroke-width="1.0"/>
<text x="86.83" y="806.30" font-size="7.3" text-anchor="middle" fill="#1a1a1a" class="s">1</text>
<line x1="105.16" y1="791.20" x2="105.16" y2="794.40" stroke="#111" stroke-width="1.0"/>
<text x="105.16" y="806.30" font-size="7.3" text-anchor="middle" fill="#1a1a1a" class="s">2</text>
<line x1="123.49" y1="791.20" x2="123.49" y2="794.40" stroke="#111" stroke-width="1.0"/>
<text x="123.49" y="806.30" font-size="7.3" text-anchor="middle" fill="#1a1a1a" class="s">3</text>
<line x1="141.82" y1="791.20" x2="141.82" y2="794.40" stroke="#111" stroke-width="1.0"/>
<text x="141.82" y="806.30" font-size="7.3" text-anchor="middle" fill="#1a1a1a" class="s">4</text>
<line x1="160.15" y1="791.20" x2="160.15" y2="794.40" stroke="#111" stroke-width="1.0"/>
<text x="160.15" y="806.30" font-size="7.3" text-anchor="middle" fill="#1a1a1a" class="s">5</text>
<line x1="178.48" y1="791.20" x2="178.48" y2="794.40" stroke="#111" stroke-width="1.0"/>
<text x="178.48" y="806.30" font-size="7.3" text-anchor="middle" fill="#1a1a1a" class="s">6</text>
<line x1="196.81" y1="791.20" x2="196.81" y2="794.40" stroke="#111" stroke-width="1.0"/>
<text x="196.81" y="806.30" font-size="7.3" text-anchor="middle" fill="#1a1a1a" class="s">7</text>
<line x1="215.14" y1="791.20" x2="215.14" y2="794.40" stroke="#111" stroke-width="1.0"/>
<text x="215.14" y="806.30" font-size="7.3" text-anchor="middle" fill="#1a1a1a" class="s">8</text>
<line x1="233.47" y1="791.20" x2="233.47" y2="794.40" stroke="#111" stroke-width="1.0"/>
<text x="233.47" y="806.30" font-size="7.3" text-anchor="middle" fill="#1a1a1a" class="s">9</text>
<line x1="251.80" y1="791.20" x2="251.80" y2="794.40" stroke="#111" stroke-width="1.0"/>
<text x="251.80" y="806.30" font-size="7.3" text-anchor="middle" fill="#1a1a1a" class="s">10</text>
<line x1="68.50" y1="733.35" x2="250.00" y2="733.35" stroke="#222" stroke-width="1.35" stroke-dasharray="4.4,2.73" stroke-dashoffset="1.6"/>
<text x="0" y="0" font-size="10.4" text-anchor="middle" textLength="73.80" lengthAdjust="spacingAndGlyphs" fill="#1a1a1a" class="m" transform="translate(39.30,731.40) rotate(-90)">Percent survival</text>
<text x="97.80" y="822.30" font-size="10.4" textLength="128.70" lengthAdjust="spacingAndGlyphs" fill="#1a1a1a" class="m">Overall survival time (years)</text>
<text x="120.30" y="665.00" font-size="10.6" textLength="84.70" lengthAdjust="spacingAndGlyphs" fill="#1a1a1a" class="m">TARGET (non-CBF)</text>
<text x="9.80" y="668.00" font-size="14.0" fill="#1a1a1a" class="m" style="stroke:none">F</text>
<path d="M68.50,675.50 H69.80 V675.61 H71.10 V675.71 H72.20 V675.80 H72.40 V676.64 H73.10 V679.60 H73.70 V682.48 H74.10 V684.40 H75.00 V687.46 H75.10 V687.80 H76.30 H77.60 H77.90 H78.90 V690.67 H79.40 V692.10 H80.20 V695.41 H80.80 V697.90 H81.50 V701.91 H82.30 V706.50 H82.80 V709.72 H83.20 V712.30 H84.10 V719.23 H84.20 V720.00 H85.20 V724.80 H85.40 V725.90 H86.60 V732.50 H86.70 V732.98 H87.60 V737.30 H88.00 V739.43 H88.50 V742.10 H89.30 H90.60 H91.90 H92.80 V746.90 H93.20 V747.17 H94.30 V747.90 H94.50 V749.77 H95.10 V755.40 H95.80 V756.47 H96.60 V757.70 H97.10 V757.87 H98.40 V758.33 H98.90 V758.50 H99.70 V760.10 H101.00 V762.70 H101.20 V763.10 H102.30 V764.92 H103.50 V766.90 H103.60 V767.05 H104.90 V769.07 H105.50 V770.00 H106.20 H107.50 H108.80 H110.10 H111.40 H112.70 H114.00 H115.30 H116.60 H117.90 H119.20 H120.50 H121.80 H123.10 H124.30 H124.40 V771.13 H124.60 V773.40 H125.70 H127.00 H128.30 H129.60 H130.90 H132.20 H133.50 H134.80 H136.10 H137.40 H138.70 H140.00 H141.30 H142.60 H143.90 H145.20 H146.50 H147.80 H149.10 H150.40 H151.70 H153.00 H154.30 H155.60 H156.90 H158.20 H159.50 H160.80 H162.10 H163.40 H164.70 H166.00 H167.30 H168.60 H169.90 H171.20 H172.50 H173.80 H175.10 H176.40 H177.70 H179.00 H180.30 H181.60 H182.90 H184.20 H185.50 H186.80 H188.10 H189.40 H190.70 H192.00 H193.30 H194.60 H195.90 H197.20 H198.50 H199.80 H201.10 H202.40 H203.70 H205.00 H206.30 H207.60 H208.90 H210.20 H211.50 H212.80 H214.10 H215.40 H216.70 H218.00 H219.30 H220.60 H221.90 H223.20 H224.50 H225.80 H227.10 H228.40 H229.70 H231.00 H232.30 H233.60 H234.90 H236.20 H237.50 H238.80 H240.10 H241.40 H242.70 H244.00 H245.30 H246.60 H247.90 H249.20 H250.50 H251.25" fill="none" stroke="#2d4b82" stroke-width="1.4" stroke-linejoin="miter" stroke-linecap="butt"/>
<line x1="151.75" y1="773.40" x2="151.75" y2="771.30" stroke="#2d4b82" stroke-width="0.9"/>
<line x1="166.75" y1="773.40" x2="166.75" y2="771.30" stroke="#2d4b82" stroke-width="0.9"/>
<line x1="189.25" y1="773.40" x2="189.25" y2="771.30" stroke="#2d4b82" stroke-width="0.9"/>
<line x1="204.25" y1="773.40" x2="204.25" y2="771.30" stroke="#2d4b82" stroke-width="0.9"/>
<line x1="251.00" y1="773.40" x2="251.00" y2="771.30" stroke="#2d4b82" stroke-width="0.9"/>
<path d="M68.50,675.50 H69.80 H71.10 H72.40 H72.70 H73.60 V678.70 H73.70 V679.08 H74.60 V682.50 H75.00 V683.34 H75.50 V684.40 H76.30 H77.60 H78.90 H79.90 V689.20 H80.20 V690.85 H81.30 V696.90 H81.50 V699.22 H82.30 V708.50 H82.80 V709.00 H83.20 V709.40 H84.10 V709.70 H84.70 V709.90 H85.20 V713.80 H85.40 H86.70 H88.00 H89.30 H89.50 H90.00 V720.00 H90.60 V722.06 H91.40 V724.80 H91.90 V726.34 H92.80 V729.10 H93.20 V729.78 H94.50 V731.99 H94.80 V732.50 H95.80 V732.59 H97.10 V732.72 H98.40 V732.84 H99.70 V732.96 H100.10 V733.00 H101.00 V734.90 H102.30 H103.60 H104.90 H106.20 H107.30 H107.50 V735.34 H108.20 V736.90 H108.80 V741.53 H108.90 V742.30 H110.10 H111.40 H112.70 H114.00 H115.30 H116.60 H117.90 H118.20 H118.90 V744.30 H119.20 V744.32 H120.50 V744.40 H121.80 V744.49 H123.10 V744.57 H123.50 V744.60 H123.80 V746.30 H124.40 H125.70 H127.00 H128.30 H129.60 H130.90 H132.20 H133.50 H134.80 H136.10 H137.40 H138.70 H140.00 H141.30 H142.60 H143.90 H145.20 H146.50 H147.80 H149.10 H150.40 H151.70 H153.00 H154.30 H155.60 H156.90 H158.20 H159.50 H160.80 H162.10 H163.40 H164.70 H166.00 H167.30 H168.60 H169.90 H171.20 H172.50 H173.80 H175.10 H176.40 H177.70 H179.00 H180.30 H181.60 H182.90 H184.20 H185.50 H186.80 H188.10 H189.40 H190.70 H192.00 H193.30 H194.60 H195.90 H197.20 H198.50 H199.80 H201.10 H202.40 H203.70 H205.00 H206.30 H207.60 H208.90 H210.20 H211.50 H212.80 H214.10 H215.40 H216.70 H218.00 H219.30 H220.60 H221.90 H223.20 H224.50 H225.80 H227.10 H228.40 H229.70 H231.00 H232.30 H233.60 H234.90 H236.20 H237.50 H238.25" fill="none" stroke="#5ea33c" stroke-width="1.4" stroke-linejoin="miter" stroke-linecap="butt"/>
<line x1="163.75" y1="746.30" x2="163.75" y2="744.20" stroke="#5ea33c" stroke-width="0.9"/>
<line x1="167.50" y1="746.30" x2="167.50" y2="744.20" stroke="#5ea33c" stroke-width="0.9"/>
<line x1="175.75" y1="746.30" x2="175.75" y2="744.20" stroke="#5ea33c" stroke-width="0.9"/>
<line x1="177.50" y1="746.30" x2="177.50" y2="744.20" stroke="#5ea33c" stroke-width="0.9"/>
<line x1="181.25" y1="746.30" x2="181.25" y2="744.20" stroke="#5ea33c" stroke-width="0.9"/>
<line x1="194.50" y1="746.30" x2="194.50" y2="744.20" stroke="#5ea33c" stroke-width="0.9"/>
<line x1="207.50" y1="746.30" x2="207.50" y2="744.20" stroke="#5ea33c" stroke-width="0.9"/>
<line x1="209.50" y1="746.30" x2="209.50" y2="744.20" stroke="#5ea33c" stroke-width="0.9"/>
<line x1="217.50" y1="746.30" x2="217.50" y2="744.20" stroke="#5ea33c" stroke-width="0.9"/>
<line x1="226.25" y1="746.30" x2="226.25" y2="744.20" stroke="#5ea33c" stroke-width="0.9"/>
<line x1="232.50" y1="746.30" x2="232.50" y2="744.20" stroke="#5ea33c" stroke-width="0.9"/>
<line x1="238.00" y1="746.30" x2="238.00" y2="744.20" stroke="#5ea33c" stroke-width="0.9"/>
<line x1="120.90" y1="678.40" x2="131.40" y2="678.40" stroke="#5ea33c" stroke-width="1.3"/>
<line x1="126.10" y1="678.40" x2="126.10" y2="676.20" stroke="#5ea33c" stroke-width="0.9"/>
<line x1="120.90" y1="690.80" x2="131.40" y2="690.80" stroke="#2d4b82" stroke-width="1.3"/>
<line x1="126.10" y1="690.80" x2="126.10" y2="688.60" stroke="#2d4b82" stroke-width="0.9"/>
<text x="135.10" y="680.70" font-size="6.6" textLength="89.40" lengthAdjust="spacingAndGlyphs" fill="#1a1a1a" class="s">&lt; median PI (median OS=1.74)</text>
<text x="135.10" y="693.20" font-size="6.6" textLength="92.40" lengthAdjust="spacingAndGlyphs" fill="#1a1a1a" class="s">&gt; median PI (median OS=0.98y)</text>
<text x="220.50" y="740.90" font-size="6.8" textLength="17.75" lengthAdjust="spacingAndGlyphs" fill="#2a2a2a" class="s">38.5%</text>
<text x="225.00" y="769.15" font-size="6.8" textLength="17.50" lengthAdjust="spacingAndGlyphs" fill="#2a2a2a" class="s">15.2%</text>
<text x="71.50" y="785.40" font-size="6.6" fill="#2a2a2a" class="s">X</text>
<text x="76.50" y="781.20" font-size="4.2" fill="#2a2a2a" class="s">2</text>
<text x="79.50" y="785.40" font-size="6.6" textLength="42.50" lengthAdjust="spacingAndGlyphs" fill="#2a2a2a" class="s">=5.95, P=0.015</text>
<text x="9.40" y="835.60" font-size="6.3" textLength="44.50" lengthAdjust="spacingAndGlyphs" fill="#1a1a1a" class="s">Number at risk</text>
<line x1="9.40" y1="836.50" x2="53.90" y2="836.50" stroke="#1a1a1a" stroke-width="0.6"/>
<text x="11.30" y="846.80" font-size="6.3" textLength="37.20" lengthAdjust="spacingAndGlyphs" fill="#1a1a1a" class="s">&lt; median PI:</text>
<text x="64.60" y="846.80" font-size="6.3" fill="#1a1a1a" class="s">51</text>
<text x="82.90" y="846.80" font-size="6.3" fill="#1a1a1a" class="s">25</text>
<text x="101.00" y="846.80" font-size="6.3" fill="#1a1a1a" class="s">20</text>
<text x="119.30" y="846.80" font-size="6.3" fill="#1a1a1a" class="s">15</text>
<text x="139.50" y="846.80" font-size="6.3" fill="#1a1a1a" class="s">7</text>
<text x="158.00" y="846.80" font-size="6.3" fill="#1a1a1a" class="s">0</text>
<text x="176.75" y="846.80" font-size="6.3" fill="#1a1a1a" class="s">0</text>
<text x="195.00" y="846.80" font-size="6.3" fill="#1a1a1a" class="s">0</text>
<text x="213.25" y="846.80" font-size="6.3" fill="#1a1a1a" class="s">0</text>
<text x="231.25" y="846.80" font-size="6.3" fill="#1a1a1a" class="s">0</text>
<text x="250.00" y="846.80" font-size="6.3" fill="#1a1a1a" class="s">0</text>
<text x="11.30" y="858.60" font-size="6.3" textLength="37.20" lengthAdjust="spacingAndGlyphs" fill="#1a1a1a" class="s">&gt; median PI:</text>
<text x="64.60" y="858.60" font-size="6.3" fill="#1a1a1a" class="s">45</text>
<text x="82.90" y="858.60" font-size="6.3" fill="#1a1a1a" class="s">9</text>
<text x="101.00" y="858.60" font-size="6.3" fill="#1a1a1a" class="s">7</text>
<text x="119.30" y="858.60" font-size="6.3" fill="#1a1a1a" class="s">5</text>
<text x="139.50" y="858.60" font-size="6.3" fill="#1a1a1a" class="s">2</text>
<text x="158.00" y="858.60" font-size="6.3" fill="#1a1a1a" class="s">0</text>
<text x="176.75" y="858.60" font-size="6.3" fill="#1a1a1a" class="s">0</text>
<text x="195.00" y="858.60" font-size="6.3" fill="#1a1a1a" class="s">0</text>
<text x="213.25" y="858.60" font-size="6.3" fill="#1a1a1a" class="s">0</text>
<text x="231.25" y="858.60" font-size="6.3" fill="#1a1a1a" class="s">0</text>
<text x="250.00" y="858.60" font-size="6.3" fill="#1a1a1a" class="s">0</text>
<rect x="0" y="0" width="2.0" height="870" fill="#666"/>
<rect x="0" y="0" width="520" height="1.3" fill="#111"/>
<rect x="518.2" y="0" width="1.8" height="870" fill="#555"/>
<rect x="0" y="867.9" width="520" height="2.1" fill="#555"/>
</svg>
</body></html>
